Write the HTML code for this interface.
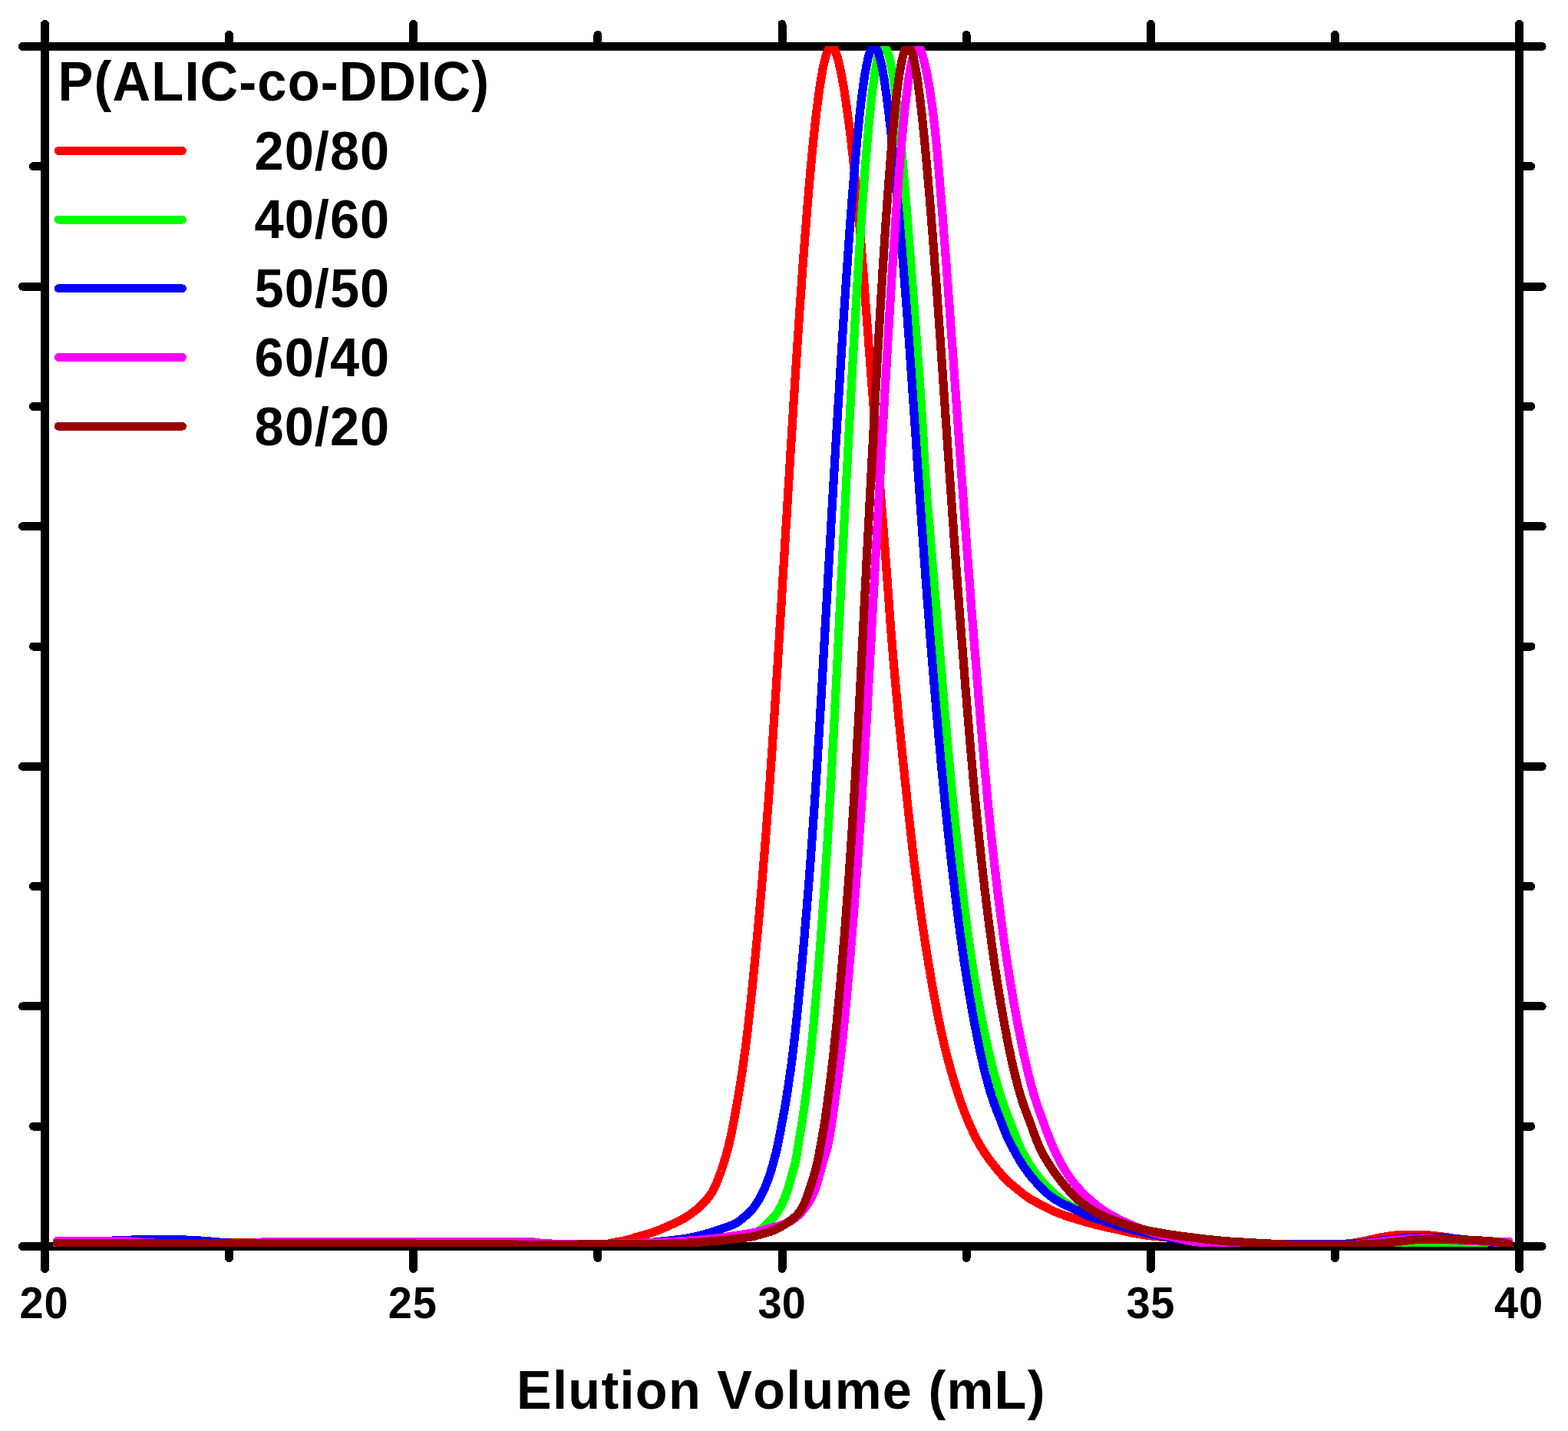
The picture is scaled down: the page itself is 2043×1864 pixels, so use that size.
<!DOCTYPE html>
<html lang="en"><head><meta charset="utf-8"><title>Elution Volume (mL) - P(ALIC-co-DDIC)</title>
<style>
html,body{margin:0;padding:0;background:#fff;}
body{width:2043px;height:1864px;overflow:hidden;}
svg{display:block;}
text{font-family:"Liberation Sans",sans-serif;font-weight:bold;fill:#000;font-kerning:none;}
</style></head><body>
<svg width="2043" height="1864" viewBox="0 0 2043 1864">
<rect width="2043" height="1864" fill="#fff"/>
<defs><clipPath id="plot"><rect x="58.5" y="60.0" width="1921.0" height="1564.0"/></clipPath></defs>

<g stroke="#000" stroke-width="11" stroke-linecap="round" fill="none" shape-rendering="crispEdges">
<path d="M29.5,60.5 H2009.2 M29.5,1623.5 H2009.2 M58.5,31.5 V1652.5 M1979.5,31.5 V1652.5"/>
<path d="M298.62,60.5 v-15.0 M298.62,1623.5 v15.0 M538.75,60.5 v-29.0 M538.75,1623.5 v29.0 M778.88,60.5 v-15.0 M778.88,1623.5 v15.0 M1019.00,60.5 v-29.0 M1019.00,1623.5 v29.0 M1259.12,60.5 v-15.0 M1259.12,1623.5 v15.0 M1499.25,60.5 v-29.0 M1499.25,1623.5 v29.0 M1739.38,60.5 v-15.0 M1739.38,1623.5 v15.0 M58.5,216.80 h-15.0 M1979.5,216.80 h15.3 M58.5,373.10 h-29.0 M1979.5,373.10 h29.7 M58.5,529.40 h-15.0 M1979.5,529.40 h15.3 M58.5,685.70 h-29.0 M1979.5,685.70 h29.7 M58.5,842.00 h-15.0 M1979.5,842.00 h15.3 M58.5,998.30 h-29.0 M1979.5,998.30 h29.7 M58.5,1154.60 h-15.0 M1979.5,1154.60 h15.3 M58.5,1310.90 h-29.0 M1979.5,1310.90 h29.7 M58.5,1467.20 h-15.0 M1979.5,1467.20 h15.3"/>
</g>
<g clip-path="url(#plot)" fill="none" stroke-width="11.2" stroke-linejoin="round" stroke-linecap="round" shape-rendering="crispEdges">
<path stroke="#ff0000" d="M74.5,1619.5 L79.6,1619.5 L84.6,1619.5 L89.7,1619.5 L94.8,1619.5 L99.9,1619.5 L104.9,1619.5 L110.0,1619.5 L115.1,1619.5 L120.1,1619.5 L125.2,1619.5 L130.3,1619.5 L135.4,1619.5 L140.4,1619.5 L145.5,1619.5 L150.6,1619.5 L155.7,1619.5 L160.7,1619.5 L165.8,1619.5 L170.9,1619.5 L175.9,1619.5 L181.0,1619.5 L186.1,1619.5 L191.2,1619.5 L196.2,1619.5 L200.0,1619.5 L201.3,1619.5 L206.4,1619.5 L211.4,1619.5 L216.5,1619.4 L221.6,1619.4 L226.7,1619.4 L231.7,1619.3 L236.8,1619.3 L241.9,1619.2 L247.0,1619.2 L252.0,1619.1 L257.1,1619.1 L262.2,1619.0 L267.2,1619.0 L272.3,1618.9 L277.4,1618.9 L282.5,1618.9 L287.5,1618.8 L292.6,1618.8 L297.7,1618.8 L300.0,1618.8 L302.7,1618.8 L307.8,1618.8 L312.9,1618.8 L318.0,1618.8 L323.0,1618.9 L328.1,1618.9 L333.2,1619.0 L338.2,1619.0 L343.3,1619.0 L348.4,1619.1 L353.5,1619.1 L358.5,1619.2 L363.6,1619.2 L368.7,1619.3 L373.7,1619.3 L378.8,1619.4 L383.9,1619.4 L389.0,1619.4 L394.0,1619.5 L399.1,1619.5 L400.0,1619.5 L404.2,1619.5 L409.3,1619.5 L414.3,1619.6 L419.4,1619.6 L424.5,1619.6 L429.5,1619.6 L434.6,1619.6 L439.7,1619.6 L444.8,1619.6 L449.8,1619.7 L454.9,1619.7 L460.0,1619.7 L465.0,1619.7 L470.1,1619.7 L475.2,1619.7 L480.3,1619.7 L485.3,1619.7 L490.4,1619.8 L495.5,1619.8 L500.6,1619.8 L505.6,1619.8 L510.7,1619.8 L515.8,1619.8 L520.8,1619.8 L525.9,1619.8 L531.0,1619.8 L536.1,1619.8 L541.1,1619.9 L546.2,1619.9 L551.3,1619.9 L556.3,1619.9 L561.4,1619.9 L566.5,1619.9 L571.6,1619.9 L576.6,1619.9 L581.7,1619.9 L586.8,1620.0 L591.8,1620.0 L596.9,1620.0 L600.0,1620.0 L602.0,1620.0 L607.1,1620.0 L612.1,1620.0 L617.2,1620.1 L622.3,1620.1 L627.4,1620.1 L632.4,1620.1 L637.5,1620.1 L642.6,1620.2 L647.6,1620.2 L652.7,1620.2 L657.8,1620.2 L662.9,1620.3 L667.9,1620.3 L673.0,1620.3 L678.1,1620.3 L683.1,1620.4 L688.2,1620.4 L693.3,1620.4 L698.4,1620.4 L703.4,1620.4 L708.5,1620.5 L713.6,1620.5 L718.6,1620.5 L723.7,1620.5 L728.8,1620.5 L733.9,1620.5 L738.9,1620.5 L740.0,1620.5 L744.0,1620.5 L749.1,1620.5 L754.2,1620.5 L759.2,1620.5 L764.3,1620.5 L769.4,1620.5 L774.4,1620.5 L779.5,1620.5 L780.0,1620.5 L784.6,1620.5 L789.7,1620.3 L790.8,1620.3 L794.7,1619.7 L799.6,1618.4 L799.7,1618.4 L804.6,1617.6 L809.6,1616.7 L809.6,1616.7 L814.6,1615.6 L819.5,1614.4 L819.5,1614.4 L824.3,1613.0 L829.2,1611.5 L829.4,1611.4 L834.1,1610.1 L839.0,1608.7 L839.4,1608.6 L843.8,1607.3 L848.7,1605.8 L849.3,1605.6 L853.5,1604.1 L858.2,1602.3 L859.2,1601.9 L862.9,1600.4 L867.5,1598.4 L869.1,1597.7 L872.2,1596.3 L876.8,1594.2 L879.0,1593.2 L881.4,1592.1 L886.0,1589.9 L889.0,1588.3 L890.4,1587.5 L894.7,1584.8 L898.9,1582.0 L899.0,1582.0 L903.1,1579.0 L907.1,1576.0 L908.8,1574.6 L911.0,1572.7 L914.7,1569.2 L918.2,1565.5 L918.7,1565.0 L921.5,1561.7 L924.6,1557.6 L927.4,1553.4 L928.9,1550.8 L929.9,1549.0 L932.1,1544.5 L934.1,1539.8 L936.0,1535.0 L937.7,1530.2 L938.2,1529.0 L939.5,1525.5 L941.1,1520.7 L942.7,1515.9 L944.2,1511.0 L945.6,1506.1 L947.0,1501.3 L948.3,1496.4 L948.6,1495.3 L949.6,1491.4 L950.7,1486.5 L951.8,1481.6 L952.9,1476.6 L953.9,1471.6 L954.9,1466.6 L955.7,1462.6 L955.9,1461.7 L956.8,1456.7 L957.7,1451.7 L958.6,1446.7 L959.5,1441.7 L960.4,1436.7 L961.2,1431.7 L961.5,1430.0 L962.1,1426.7 L962.9,1421.7 L963.7,1416.7 L964.6,1411.7 L965.4,1406.7 L966.1,1401.7 L966.4,1400.0 L966.9,1396.7 L967.6,1391.6 L968.4,1386.6 L969.1,1381.6 L969.7,1376.6 L970.4,1371.5 L970.6,1370.0 L971.1,1366.5 L971.7,1361.5 L972.4,1356.5 L973.0,1351.4 L973.6,1346.4 L974.2,1341.3 L974.3,1340.0 L974.8,1336.3 L975.3,1331.3 L975.9,1326.2 L976.5,1321.2 L977.0,1316.1 L977.5,1311.1 L977.7,1310.0 L978.1,1306.1 L978.6,1301.0 L979.1,1296.0 L979.6,1290.9 L980.2,1285.9 L980.7,1280.8 L980.8,1280.0 L981.2,1275.8 L981.7,1270.7 L982.2,1265.7 L982.7,1260.6 L983.2,1255.6 L983.7,1250.5 L983.7,1250.0 L984.2,1245.5 L984.6,1240.4 L985.1,1235.4 L985.6,1230.4 L986.1,1225.3 L986.6,1220.3 L986.6,1220.0 L987.0,1215.2 L987.5,1210.1 L988.0,1205.1 L988.4,1200.0 L988.9,1195.0 L989.3,1190.0 L989.3,1189.9 L989.8,1184.9 L990.2,1179.8 L990.7,1174.8 L991.1,1169.7 L991.5,1164.7 L991.9,1160.0 L992.0,1159.6 L992.4,1154.6 L992.8,1149.5 L993.3,1144.5 L993.7,1139.4 L994.1,1134.4 L994.5,1130.0 L994.5,1129.3 L994.9,1124.2 L995.4,1119.2 L995.8,1114.1 L996.2,1109.1 L996.6,1104.0 L996.9,1100.0 L997.0,1099.0 L997.4,1093.9 L997.8,1088.9 L998.2,1083.8 L998.6,1078.7 L999.0,1073.7 L999.2,1070.0 L999.3,1068.6 L999.7,1063.6 L1000.1,1058.5 L1000.5,1053.5 L1000.9,1048.4 L1001.2,1043.3 L1001.5,1040.0 L1001.6,1038.3 L1002.0,1033.2 L1002.3,1028.2 L1002.7,1023.1 L1003.1,1018.0 L1003.4,1013.0 L1003.6,1010.0 L1003.8,1007.9 L1004.1,1002.9 L1004.5,997.8 L1004.8,992.7 L1005.2,987.7 L1005.5,982.6 L1005.7,980.0 L1005.9,977.6 L1006.2,972.5 L1006.6,967.4 L1006.9,962.4 L1007.3,957.3 L1007.6,952.3 L1007.7,950.0 L1007.9,947.2 L1008.3,942.1 L1008.6,937.1 L1008.9,932.0 L1009.3,927.0 L1009.6,921.9 L1009.7,920.0 L1009.9,916.8 L1010.2,911.8 L1010.6,906.7 L1010.9,901.6 L1011.2,896.6 L1011.5,891.5 L1011.6,890.0 L1011.8,886.5 L1012.2,881.4 L1012.5,876.3 L1012.8,871.3 L1013.1,866.2 L1013.4,861.2 L1013.5,860.0 L1013.7,856.1 L1014.0,851.0 L1014.4,846.0 L1014.7,840.9 L1015.0,835.8 L1015.3,830.8 L1015.3,830.0 L1015.6,825.7 L1015.9,820.7 L1016.2,815.6 L1016.5,810.5 L1016.8,805.5 L1017.2,800.4 L1017.2,800.0 L1017.5,795.3 L1017.8,790.3 L1018.1,785.2 L1018.4,780.1 L1018.7,775.1 L1019.0,770.0 L1019.0,770.0 L1019.3,765.0 L1019.6,759.9 L1019.9,754.8 L1020.2,749.8 L1020.5,744.7 L1020.8,740.0 L1020.9,739.6 L1021.2,734.6 L1021.5,729.5 L1021.8,724.5 L1022.1,719.4 L1022.4,714.3 L1022.7,710.0 L1022.7,709.3 L1023.0,704.2 L1023.3,699.1 L1023.6,694.1 L1023.9,689.0 L1024.2,684.0 L1024.5,680.0 L1024.6,678.9 L1024.9,673.8 L1025.2,668.8 L1025.5,663.7 L1025.8,658.6 L1026.1,653.6 L1026.3,650.0 L1026.4,648.5 L1026.7,643.5 L1027.0,638.4 L1027.3,633.3 L1027.6,628.3 L1028.0,623.2 L1028.2,620.0 L1028.3,618.1 L1028.6,613.1 L1028.9,608.0 L1029.2,603.0 L1029.5,597.9 L1029.8,592.8 L1030.0,590.0 L1030.1,587.8 L1030.4,582.7 L1030.8,577.6 L1031.1,572.6 L1031.4,567.5 L1031.7,562.5 L1031.9,560.0 L1032.0,557.4 L1032.3,552.3 L1032.6,547.3 L1033.0,542.2 L1033.3,537.1 L1033.6,532.1 L1033.7,530.0 L1033.9,527.0 L1034.2,522.0 L1034.6,516.9 L1034.9,511.8 L1035.2,506.8 L1035.5,501.7 L1035.6,500.0 L1035.8,496.6 L1036.2,491.6 L1036.5,486.5 L1036.8,481.5 L1037.1,476.4 L1037.5,471.3 L1037.6,470.0 L1037.8,466.3 L1038.1,461.2 L1038.5,456.2 L1038.8,451.1 L1039.1,446.0 L1039.5,441.0 L1039.5,440.0 L1039.8,435.9 L1040.1,430.9 L1040.5,425.8 L1040.8,420.7 L1041.2,415.7 L1041.5,410.6 L1041.5,410.0 L1041.8,405.5 L1042.2,400.5 L1042.5,395.4 L1042.9,390.4 L1043.2,385.3 L1043.6,380.2 L1043.6,380.0 L1044.0,375.2 L1044.3,370.1 L1044.7,365.1 L1045.0,360.0 L1045.4,355.0 L1045.8,350.0 L1045.8,349.9 L1046.1,344.8 L1046.5,339.8 L1046.9,334.7 L1047.2,329.7 L1047.6,324.6 L1048.0,320.0 L1048.0,319.5 L1048.4,314.5 L1048.8,309.4 L1049.2,304.4 L1049.6,299.3 L1050.0,294.3 L1050.3,290.0 L1050.4,289.2 L1050.8,284.1 L1051.2,279.1 L1051.6,274.0 L1052.0,269.0 L1052.4,263.9 L1052.7,260.0 L1052.8,258.9 L1053.2,253.8 L1053.7,248.8 L1054.1,243.7 L1054.5,238.7 L1054.8,235.5 L1055.0,233.6 L1055.4,228.5 L1055.9,223.5 L1056.3,218.4 L1056.8,213.4 L1057.1,210.5 L1057.3,208.3 L1057.8,203.3 L1058.2,198.2 L1058.7,193.2 L1059.0,190.5 L1059.2,188.2 L1059.7,183.1 L1060.3,178.1 L1060.8,173.0 L1061.1,170.5 L1061.3,168.0 L1061.9,162.9 L1062.4,157.9 L1063.0,152.8 L1063.0,152.5 L1063.6,147.8 L1064.2,142.8 L1064.8,137.7 L1065.0,136.5 L1065.5,132.7 L1066.1,127.7 L1066.8,122.7 L1066.8,122.5 L1067.5,117.6 L1068.2,112.6 L1068.6,110.5 L1069.0,107.6 L1069.8,102.6 L1070.2,100.5 L1070.7,97.6 L1071.6,92.6 L1071.6,92.5 L1072.5,87.6 L1073.0,85.5 L1073.6,82.7 L1074.3,79.5 L1074.8,77.7 L1075.7,74.5 L1076.1,72.8 L1076.9,70.5 L1077.8,68.0 L1078.0,67.5 L1079.1,65.0 L1079.9,63.4 L1080.2,63.0 L1081.2,61.7 L1082.2,60.9 L1083.5,60.5 L1083.7,60.5 L1084.7,60.9 L1085.5,61.7 L1086.5,63.0 L1087.1,64.1 L1087.6,65.0 L1088.6,67.5 L1089.1,68.8 L1089.7,70.5 L1090.7,73.6 L1091.0,74.5 L1092.1,78.5 L1092.3,79.5 L1093.3,83.4 L1093.8,85.5 L1094.4,88.4 L1095.3,92.5 L1095.5,93.3 L1096.5,98.3 L1096.9,100.5 L1097.4,103.3 L1098.3,108.3 L1098.7,110.5 L1099.2,113.3 L1100.0,118.3 L1100.7,122.5 L1100.8,123.3 L1101.6,128.3 L1102.3,133.3 L1102.8,136.5 L1103.0,138.3 L1103.7,143.4 L1104.4,148.4 L1105.0,152.5 L1105.1,153.4 L1105.8,158.4 L1106.4,163.5 L1107.1,168.5 L1107.3,170.5 L1107.7,173.5 L1108.3,178.6 L1108.9,183.6 L1109.5,188.7 L1109.7,190.5 L1110.0,193.7 L1110.6,198.7 L1111.2,203.8 L1111.7,208.8 L1111.9,210.5 L1112.3,213.9 L1112.8,218.9 L1113.3,224.0 L1113.8,229.0 L1114.3,234.0 L1114.5,235.5 L1114.8,239.1 L1115.3,244.1 L1115.8,249.2 L1116.3,254.2 L1116.8,259.3 L1116.9,260.0 L1117.3,264.3 L1117.7,269.4 L1118.2,274.4 L1118.6,279.5 L1119.1,284.5 L1119.5,289.6 L1119.6,290.0 L1120.0,294.6 L1120.4,299.7 L1120.8,304.8 L1121.2,309.8 L1121.7,314.9 L1122.1,319.9 L1122.1,320.0 L1122.5,325.0 L1122.9,330.0 L1123.3,335.1 L1123.7,340.1 L1124.1,345.2 L1124.5,350.0 L1124.5,350.3 L1124.9,355.3 L1125.3,360.4 L1125.6,365.4 L1126.0,370.5 L1126.4,375.5 L1126.7,380.0 L1126.8,380.6 L1127.2,385.7 L1127.6,390.7 L1127.9,395.8 L1128.3,400.8 L1128.7,405.9 L1129.0,410.0 L1129.1,410.9 L1129.4,416.0 L1129.8,421.1 L1130.2,426.1 L1130.6,431.2 L1131.0,436.2 L1131.2,440.0 L1131.3,441.3 L1131.7,446.4 L1132.1,451.4 L1132.5,456.5 L1132.9,461.5 L1133.3,466.6 L1133.5,470.0 L1133.6,471.6 L1134.0,476.7 L1134.4,481.8 L1134.8,486.8 L1135.2,491.9 L1135.6,496.9 L1135.8,500.0 L1136.0,502.0 L1136.4,507.0 L1136.8,512.1 L1137.2,517.2 L1137.6,522.2 L1138.0,527.3 L1138.2,530.0 L1138.4,532.3 L1138.8,537.4 L1139.2,542.4 L1139.6,547.5 L1140.0,552.5 L1140.5,557.6 L1140.6,560.0 L1140.9,562.7 L1141.3,567.7 L1141.7,572.8 L1142.1,577.8 L1142.5,582.9 L1142.9,587.9 L1143.1,590.0 L1143.3,593.0 L1143.7,598.0 L1144.2,603.1 L1144.6,608.2 L1145.0,613.2 L1145.4,618.3 L1145.5,620.0 L1145.8,623.3 L1146.2,628.4 L1146.6,633.4 L1147.0,638.5 L1147.4,643.5 L1147.8,648.6 L1147.9,650.0 L1148.2,653.7 L1148.6,658.7 L1149.0,663.8 L1149.4,668.8 L1149.8,673.9 L1150.2,678.9 L1150.3,680.0 L1150.6,684.0 L1151.0,689.0 L1151.4,694.1 L1151.8,699.2 L1152.2,704.2 L1152.6,709.3 L1152.6,710.0 L1153.0,714.3 L1153.3,719.4 L1153.7,724.4 L1154.1,729.5 L1154.5,734.6 L1154.9,739.6 L1154.9,740.0 L1155.2,744.7 L1155.6,749.7 L1156.0,754.8 L1156.3,759.9 L1156.7,764.9 L1157.1,770.0 L1157.1,770.0 L1157.5,775.0 L1157.8,780.1 L1158.2,785.2 L1158.5,790.2 L1158.9,795.3 L1159.3,800.0 L1159.3,800.3 L1159.7,805.4 L1160.0,810.4 L1160.4,815.5 L1160.8,820.6 L1161.2,825.6 L1161.6,830.0 L1161.6,830.7 L1162.0,835.7 L1162.4,840.8 L1162.8,845.8 L1163.3,850.9 L1163.7,855.9 L1164.0,860.0 L1164.1,861.0 L1164.6,866.1 L1165.0,871.1 L1165.5,876.2 L1165.9,881.2 L1166.4,886.3 L1166.7,890.0 L1166.8,891.3 L1167.3,896.4 L1167.8,901.4 L1168.2,906.5 L1168.7,911.5 L1169.2,916.6 L1169.5,920.0 L1169.7,921.6 L1170.1,926.7 L1170.6,931.7 L1171.1,936.8 L1171.6,941.8 L1172.1,946.9 L1172.4,950.0 L1172.6,951.9 L1173.1,956.9 L1173.6,962.0 L1174.1,967.0 L1174.6,972.1 L1175.2,977.1 L1175.4,980.0 L1175.7,982.2 L1176.2,987.2 L1176.7,992.3 L1177.2,997.3 L1177.8,1002.4 L1178.3,1007.4 L1178.5,1010.0 L1178.8,1012.5 L1179.3,1017.5 L1179.9,1022.5 L1180.4,1027.6 L1180.9,1032.6 L1181.5,1037.7 L1181.7,1040.0 L1182.0,1042.7 L1182.5,1047.8 L1183.1,1052.8 L1183.6,1057.8 L1184.2,1062.9 L1184.7,1067.9 L1185.0,1070.0 L1185.3,1073.0 L1185.9,1078.0 L1186.4,1083.0 L1187.0,1088.1 L1187.6,1093.1 L1188.2,1098.2 L1188.4,1100.0 L1188.7,1103.2 L1189.3,1108.2 L1189.9,1113.3 L1190.5,1118.3 L1191.1,1123.4 L1191.8,1128.4 L1192.0,1130.0 L1192.4,1133.4 L1193.0,1138.5 L1193.6,1143.5 L1194.3,1148.5 L1194.9,1153.5 L1195.6,1158.6 L1195.8,1160.0 L1196.3,1163.6 L1196.9,1168.6 L1197.6,1173.7 L1198.3,1178.7 L1199.0,1183.7 L1199.7,1188.7 L1199.9,1190.0 L1200.4,1193.8 L1201.1,1198.8 L1201.8,1203.8 L1202.6,1208.8 L1203.3,1213.8 L1204.1,1218.8 L1204.2,1220.0 L1204.8,1223.9 L1205.6,1228.9 L1206.4,1233.9 L1207.2,1238.9 L1208.0,1243.9 L1208.8,1248.9 L1209.0,1250.0 L1209.6,1253.9 L1210.4,1258.9 L1211.3,1263.9 L1212.1,1268.9 L1213.0,1273.9 L1213.8,1278.9 L1214.0,1280.0 L1214.7,1283.9 L1215.6,1288.9 L1216.5,1293.9 L1217.4,1298.9 L1218.4,1303.9 L1219.3,1308.9 L1219.5,1310.0 L1220.3,1313.8 L1221.2,1318.8 L1222.2,1323.8 L1223.2,1328.8 L1224.3,1333.7 L1225.3,1338.7 L1225.6,1340.0 L1226.4,1343.7 L1227.5,1348.6 L1228.6,1353.6 L1229.7,1358.5 L1230.9,1363.4 L1232.1,1368.4 L1232.5,1370.0 L1233.3,1373.3 L1234.6,1378.2 L1235.9,1383.1 L1237.2,1388.0 L1238.6,1392.9 L1239.9,1397.8 L1240.6,1400.0 L1241.4,1402.6 L1242.8,1407.5 L1244.3,1412.3 L1245.8,1417.2 L1247.4,1422.0 L1248.9,1426.8 L1250.0,1430.0 L1250.6,1431.6 L1252.2,1436.4 L1253.9,1441.2 L1255.7,1446.0 L1257.5,1450.7 L1259.4,1455.4 L1260.8,1459.0 L1261.3,1460.1 L1263.3,1464.8 L1265.3,1469.4 L1267.5,1474.0 L1269.7,1478.6 L1270.5,1480.0 L1272.0,1483.1 L1274.4,1487.6 L1276.9,1492.0 L1279.5,1496.3 L1281.2,1499.0 L1282.2,1500.6 L1285.1,1504.8 L1288.0,1509.0 L1291.1,1513.0 L1294.2,1517.0 L1296.5,1520.0 L1297.4,1521.0 L1300.6,1524.9 L1303.9,1528.8 L1307.3,1532.6 L1310.8,1536.2 L1313.6,1539.0 L1314.4,1539.8 L1318.2,1543.1 L1322.1,1546.3 L1326.1,1549.5 L1326.7,1550.0 L1330.0,1552.7 L1334.0,1555.9 L1338.1,1558.9 L1340.0,1560.2 L1342.3,1561.7 L1346.7,1564.2 L1351.2,1566.6 L1355.6,1569.0 L1355.6,1569.0 L1360.1,1571.4 L1364.6,1573.8 L1369.2,1576.0 L1370.0,1576.4 L1373.8,1578.1 L1378.5,1580.0 L1383.2,1581.8 L1385.7,1582.7 L1388.0,1583.5 L1392.8,1585.1 L1397.7,1586.7 L1402.0,1588.0 L1402.5,1588.2 L1407.4,1589.6 L1412.2,1591.1 L1417.1,1592.5 L1420.0,1593.3 L1422.0,1593.8 L1426.9,1595.1 L1431.8,1596.3 L1436.7,1597.5 L1439.7,1598.2 L1441.7,1598.6 L1446.6,1599.7 L1451.6,1600.7 L1456.6,1601.8 L1459.5,1602.4 L1461.5,1602.9 L1466.5,1604.0 L1471.4,1605.2 L1476.4,1606.2 L1479.4,1606.8 L1481.4,1607.1 L1486.4,1607.9 L1491.4,1608.7 L1496.4,1609.4 L1499.2,1609.7 L1501.5,1610.0 L1506.5,1610.5 L1511.5,1611.0 L1516.6,1611.6 L1519.0,1611.8 L1521.6,1612.1 L1526.7,1612.6 L1531.7,1613.2 L1536.8,1613.7 L1541.8,1614.2 L1546.9,1614.8 L1551.9,1615.3 L1557.0,1615.7 L1560.0,1616.0 L1562.0,1616.2 L1567.1,1616.6 L1572.1,1617.1 L1577.2,1617.5 L1582.2,1617.9 L1587.3,1618.3 L1592.3,1618.6 L1597.4,1618.9 L1600.0,1619.0 L1602.5,1619.1 L1607.5,1619.3 L1612.6,1619.4 L1617.7,1619.6 L1622.7,1619.7 L1627.8,1619.9 L1632.9,1620.0 L1638.0,1620.1 L1643.0,1620.3 L1648.1,1620.4 L1653.2,1620.5 L1658.2,1620.6 L1663.3,1620.7 L1668.4,1620.8 L1673.5,1620.8 L1678.5,1620.9 L1683.6,1620.9 L1688.7,1621.0 L1693.8,1621.0 L1698.8,1621.0 L1700.0,1621.0 L1703.9,1621.0 L1709.0,1621.0 L1714.0,1621.0 L1719.1,1621.0 L1724.2,1621.0 L1729.3,1621.0 L1734.3,1620.9 L1739.4,1620.9 L1743.0,1620.9 L1744.5,1620.9 L1749.5,1620.6 L1754.6,1620.1 L1757.9,1619.8 L1759.6,1619.6 L1764.7,1619.0 L1769.7,1618.1 L1772.8,1617.6 L1774.7,1617.2 L1779.6,1616.1 L1784.6,1615.0 L1787.6,1614.3 L1789.5,1613.9 L1794.5,1612.8 L1799.5,1611.8 L1802.5,1611.3 L1804.4,1611.0 L1809.5,1610.1 L1814.5,1609.4 L1817.4,1609.1 L1819.5,1609.0 L1824.6,1608.7 L1829.7,1608.5 L1832.3,1608.5 L1834.7,1608.5 L1839.8,1608.5 L1844.9,1608.5 L1847.2,1608.5 L1850.0,1608.5 L1855.0,1608.7 L1860.1,1608.9 L1862.0,1609.0 L1865.1,1609.2 L1870.2,1609.8 L1875.2,1610.4 L1876.9,1610.6 L1880.3,1611.1 L1885.3,1611.8 L1890.3,1612.6 L1891.8,1612.8 L1895.3,1613.3 L1900.4,1613.9 L1905.4,1614.5 L1910.4,1615.0 L1915.5,1615.6 L1920.0,1616.0 L1920.5,1616.1 L1925.6,1616.5 L1930.6,1616.9 L1935.7,1617.3 L1940.7,1617.7 L1945.8,1618.1 L1950.0,1618.5 L1950.9,1618.6 L1955.9,1619.0 L1961.0,1619.5 L1966.0,1620.0"/>
<path stroke="#00ff00" d="M74.5,1621.0 L79.6,1621.0 L84.8,1621.0 L89.9,1621.0 L95.0,1621.0 L100.1,1621.0 L105.3,1621.0 L110.4,1621.0 L115.5,1621.0 L120.7,1621.0 L125.8,1621.0 L130.9,1621.0 L136.0,1621.0 L141.2,1621.0 L146.3,1621.0 L151.4,1621.0 L156.6,1621.0 L161.7,1621.0 L166.8,1621.0 L172.0,1621.0 L177.1,1621.0 L182.2,1621.0 L187.3,1621.0 L192.5,1621.0 L197.6,1621.0 L202.7,1621.0 L207.9,1621.0 L213.0,1621.0 L218.1,1621.0 L223.2,1621.0 L228.4,1621.0 L233.5,1621.0 L238.6,1621.0 L243.8,1621.0 L248.9,1621.0 L254.0,1621.0 L259.1,1621.0 L264.3,1621.0 L269.4,1621.0 L274.5,1621.0 L279.7,1621.0 L284.8,1621.0 L289.9,1621.0 L295.0,1621.0 L300.2,1621.0 L305.3,1621.0 L310.4,1621.0 L315.6,1621.0 L320.7,1621.0 L325.8,1621.0 L331.0,1621.0 L336.1,1621.0 L341.2,1621.0 L346.3,1621.0 L351.5,1621.0 L356.6,1621.0 L361.7,1621.0 L366.9,1621.0 L372.0,1621.0 L377.1,1621.0 L382.2,1621.0 L387.4,1621.0 L392.5,1621.0 L397.6,1621.0 L400.0,1621.0 L402.8,1621.0 L407.9,1621.0 L413.0,1621.0 L418.1,1621.0 L423.3,1621.0 L428.4,1621.0 L433.5,1621.0 L438.7,1621.0 L443.8,1621.0 L448.9,1621.0 L454.1,1621.0 L459.2,1621.0 L464.3,1621.0 L469.4,1621.0 L474.6,1621.0 L479.7,1621.0 L484.8,1621.0 L490.0,1621.0 L495.1,1621.0 L500.2,1621.0 L505.3,1621.0 L510.5,1621.0 L515.6,1621.0 L520.7,1621.0 L525.9,1621.0 L531.0,1621.0 L536.1,1621.0 L541.3,1621.0 L546.4,1621.0 L551.5,1621.0 L556.6,1621.0 L561.8,1621.0 L566.9,1621.0 L572.0,1621.0 L577.2,1621.0 L582.3,1621.0 L587.4,1621.0 L592.5,1621.0 L597.7,1621.0 L602.8,1621.0 L607.9,1621.0 L613.1,1621.0 L618.2,1621.0 L623.3,1621.0 L628.5,1621.0 L633.6,1621.0 L638.7,1621.0 L643.8,1621.0 L649.0,1621.0 L654.1,1621.0 L659.2,1621.0 L664.4,1621.0 L669.5,1621.0 L674.6,1621.0 L679.7,1621.0 L684.9,1621.0 L690.0,1621.0 L695.1,1621.0 L700.3,1621.0 L705.4,1621.0 L710.5,1621.0 L715.6,1621.0 L720.8,1621.0 L725.9,1621.0 L731.0,1621.0 L736.2,1621.0 L741.3,1621.0 L746.4,1621.0 L751.5,1621.0 L756.7,1621.0 L761.8,1621.0 L766.9,1621.0 L772.1,1621.0 L777.2,1621.0 L782.3,1621.0 L787.4,1621.0 L792.6,1621.0 L797.7,1621.0 L800.0,1621.0 L802.8,1621.0 L808.0,1621.0 L813.1,1620.9 L818.2,1620.9 L823.3,1620.8 L828.5,1620.7 L833.6,1620.6 L838.7,1620.4 L843.9,1620.3 L849.0,1620.1 L854.1,1619.9 L859.3,1619.7 L864.4,1619.5 L869.5,1619.3 L874.6,1619.1 L879.8,1618.8 L884.9,1618.6 L890.0,1618.3 L895.1,1618.1 L900.0,1617.8 L900.2,1617.8 L905.3,1617.5 L910.5,1617.1 L915.6,1616.7 L920.7,1616.1 L925.8,1615.6 L930.9,1615.0 L936.0,1614.4 L941.1,1613.7 L946.1,1613.0 L950.0,1612.5 L951.2,1612.3 L956.3,1611.6 L961.4,1610.7 L966.4,1609.8 L971.4,1608.8 L975.0,1608.0 L976.5,1607.7 L981.5,1606.5 L986.0,1605.1 L986.3,1605.0 L990.6,1602.1 L992.0,1600.9 L994.6,1598.8 L997.9,1595.8 L998.4,1595.4 L1002.1,1591.8 L1005.7,1588.1 L1009.1,1584.3 L1011.1,1581.8 L1012.2,1580.3 L1014.9,1575.9 L1017.4,1571.4 L1018.2,1569.8 L1019.6,1566.8 L1021.7,1562.1 L1023.6,1557.3 L1025.4,1552.5 L1025.6,1551.9 L1027.0,1547.6 L1028.4,1542.7 L1029.8,1537.7 L1030.8,1533.9 L1031.1,1532.8 L1032.5,1527.9 L1033.9,1522.9 L1035.3,1518.0 L1036.5,1513.0 L1037.1,1510.0 L1037.5,1508.0 L1038.3,1502.9 L1039.0,1497.8 L1039.4,1495.3 L1039.8,1492.8 L1040.7,1487.7 L1041.5,1482.6 L1042.4,1477.6 L1043.3,1472.5 L1044.1,1467.5 L1044.9,1462.6 L1044.9,1462.4 L1045.7,1457.3 L1046.5,1452.3 L1047.2,1447.2 L1047.9,1442.1 L1048.6,1437.0 L1049.3,1431.9 L1049.6,1430.0 L1050.0,1426.9 L1050.6,1421.8 L1051.3,1416.7 L1051.9,1411.6 L1052.5,1406.5 L1053.1,1401.4 L1053.3,1400.0 L1053.7,1396.3 L1054.3,1391.2 L1054.8,1386.1 L1055.4,1381.0 L1055.9,1375.9 L1056.5,1370.8 L1056.6,1370.0 L1057.0,1365.7 L1057.5,1360.6 L1058.0,1355.5 L1058.5,1350.4 L1059.0,1345.3 L1059.5,1340.2 L1059.5,1340.0 L1060.0,1335.1 L1060.5,1330.0 L1060.9,1324.9 L1061.4,1319.8 L1061.8,1314.7 L1062.2,1310.0 L1062.3,1309.5 L1062.7,1304.4 L1063.2,1299.3 L1063.6,1294.2 L1064.0,1289.1 L1064.5,1284.0 L1064.8,1280.0 L1064.9,1278.9 L1065.3,1273.8 L1065.7,1268.7 L1066.1,1263.5 L1066.5,1258.4 L1067.0,1253.3 L1067.2,1250.0 L1067.4,1248.2 L1067.8,1243.1 L1068.2,1238.0 L1068.6,1232.9 L1069.0,1227.8 L1069.3,1222.6 L1069.5,1220.0 L1069.7,1217.5 L1070.1,1212.4 L1070.5,1207.3 L1070.9,1202.2 L1071.2,1197.1 L1071.6,1191.9 L1071.8,1190.0 L1072.0,1186.8 L1072.4,1181.7 L1072.7,1176.6 L1073.1,1171.5 L1073.4,1166.4 L1073.8,1161.2 L1073.9,1160.0 L1074.2,1156.1 L1074.5,1151.0 L1074.9,1145.9 L1075.2,1140.8 L1075.5,1135.7 L1075.9,1130.5 L1075.9,1130.0 L1076.2,1125.4 L1076.6,1120.3 L1076.9,1115.2 L1077.2,1110.1 L1077.5,1105.0 L1077.9,1100.0 L1077.9,1099.8 L1078.2,1094.7 L1078.5,1089.6 L1078.8,1084.5 L1079.1,1079.4 L1079.5,1074.2 L1079.7,1070.0 L1079.8,1069.1 L1080.1,1064.0 L1080.4,1058.9 L1080.7,1053.8 L1081.0,1048.6 L1081.3,1043.5 L1081.5,1040.0 L1081.6,1038.4 L1081.9,1033.3 L1082.2,1028.2 L1082.5,1023.0 L1082.8,1017.9 L1083.1,1012.8 L1083.2,1010.0 L1083.3,1007.7 L1083.6,1002.6 L1083.9,997.4 L1084.2,992.3 L1084.5,987.2 L1084.8,982.1 L1084.9,980.0 L1085.0,976.9 L1085.3,971.8 L1085.6,966.7 L1085.9,961.6 L1086.1,956.5 L1086.4,951.3 L1086.5,950.0 L1086.7,946.2 L1086.9,941.1 L1087.2,936.0 L1087.5,930.8 L1087.7,925.7 L1088.0,920.6 L1088.0,920.0 L1088.2,915.5 L1088.5,910.4 L1088.8,905.2 L1089.0,900.1 L1089.3,895.0 L1089.5,890.0 L1089.5,889.9 L1089.8,884.7 L1090.1,879.6 L1090.3,874.5 L1090.6,869.4 L1090.8,864.3 L1091.0,860.0 L1091.1,859.1 L1091.3,854.0 L1091.6,848.9 L1091.8,843.8 L1092.1,838.6 L1092.3,833.5 L1092.5,830.0 L1092.6,828.4 L1092.8,823.3 L1093.1,818.2 L1093.3,813.0 L1093.6,807.9 L1093.9,802.8 L1094.0,800.0 L1094.1,797.7 L1094.4,792.5 L1094.6,787.4 L1094.9,782.3 L1095.1,777.2 L1095.4,772.0 L1095.5,770.0 L1095.6,766.9 L1095.9,761.8 L1096.1,756.7 L1096.4,751.6 L1096.7,746.4 L1096.9,741.3 L1097.0,740.0 L1097.2,736.2 L1097.4,731.1 L1097.7,725.9 L1097.9,720.8 L1098.2,715.7 L1098.5,710.6 L1098.5,710.0 L1098.7,705.5 L1099.0,700.3 L1099.2,695.2 L1099.5,690.1 L1099.8,685.0 L1100.0,680.0 L1100.0,679.8 L1100.3,674.7 L1100.5,669.6 L1100.8,664.5 L1101.1,659.4 L1101.3,654.2 L1101.6,650.0 L1101.6,649.1 L1101.9,644.0 L1102.1,638.9 L1102.4,633.7 L1102.7,628.6 L1102.9,623.5 L1103.1,620.0 L1103.2,618.4 L1103.5,613.3 L1103.7,608.1 L1104.0,603.0 L1104.3,597.9 L1104.5,592.8 L1104.7,590.0 L1104.8,587.6 L1105.1,582.5 L1105.3,577.4 L1105.6,572.3 L1105.9,567.2 L1106.2,562.0 L1106.3,560.0 L1106.4,556.9 L1106.7,551.8 L1107.0,546.7 L1107.3,541.5 L1107.5,536.4 L1107.8,531.3 L1107.9,530.0 L1108.1,526.2 L1108.4,521.1 L1108.6,515.9 L1108.9,510.8 L1109.2,505.7 L1109.5,500.6 L1109.5,500.0 L1109.8,495.5 L1110.0,490.3 L1110.3,485.2 L1110.6,480.1 L1110.9,475.0 L1111.2,470.0 L1111.2,469.8 L1111.5,464.7 L1111.8,459.6 L1112.0,454.5 L1112.3,449.4 L1112.6,444.2 L1112.9,440.0 L1112.9,439.1 L1113.2,434.0 L1113.5,428.9 L1113.8,423.8 L1114.1,418.6 L1114.4,413.5 L1114.6,410.0 L1114.7,408.4 L1115.0,403.3 L1115.3,398.2 L1115.6,393.0 L1115.9,387.9 L1116.2,382.8 L1116.4,380.0 L1116.5,377.7 L1116.8,372.6 L1117.2,367.4 L1117.5,362.3 L1117.8,357.2 L1118.1,352.1 L1118.2,350.0 L1118.4,347.0 L1118.7,341.8 L1119.1,336.7 L1119.4,331.6 L1119.7,326.5 L1120.0,321.4 L1120.1,320.0 L1120.4,316.2 L1120.7,311.1 L1121.0,306.0 L1121.4,300.9 L1121.7,295.8 L1122.1,290.7 L1122.1,290.0 L1122.4,285.5 L1122.8,280.4 L1123.1,275.3 L1123.5,270.2 L1123.8,265.1 L1124.2,260.0 L1124.2,260.0 L1124.6,254.8 L1124.9,249.7 L1125.3,244.6 L1125.7,239.5 L1126.0,235.5 L1126.1,234.4 L1126.5,229.3 L1126.8,224.2 L1127.2,219.0 L1127.6,213.9 L1127.9,210.5 L1128.1,208.8 L1128.5,203.7 L1128.9,198.6 L1129.3,193.5 L1129.6,190.5 L1129.7,188.4 L1130.2,183.3 L1130.6,178.1 L1131.1,173.0 L1131.3,170.5 L1131.6,167.9 L1132.0,162.8 L1132.5,157.7 L1133.0,152.6 L1133.0,152.5 L1133.5,147.5 L1134.0,142.4 L1134.6,137.3 L1134.7,136.5 L1135.1,132.2 L1135.7,127.1 L1136.2,122.5 L1136.3,122.0 L1136.9,116.9 L1137.6,111.8 L1137.7,110.5 L1138.2,106.8 L1138.9,101.7 L1139.1,100.5 L1139.7,96.6 L1140.3,92.5 L1140.5,91.5 L1141.4,86.5 L1141.6,85.5 L1142.3,81.4 L1142.7,79.5 L1143.4,76.4 L1143.9,74.5 L1144.6,71.4 L1144.9,70.5 L1145.9,67.5 L1146.2,66.6 L1146.8,65.0 L1147.8,63.0 L1148.5,62.0 L1148.7,61.7 L1149.5,60.9 L1150.7,60.5 L1152.1,60.9 L1152.9,61.4 L1153.1,61.7 L1154.2,63.0 L1155.3,65.0 L1155.7,65.7 L1156.4,67.5 L1157.5,70.5 L1157.5,70.5 L1158.7,74.5 L1158.9,75.4 L1159.9,79.5 L1160.1,80.4 L1161.2,85.4 L1161.2,85.5 L1162.2,90.5 L1162.5,92.5 L1163.1,95.5 L1163.9,100.5 L1163.9,100.6 L1164.7,105.6 L1165.4,110.5 L1165.4,110.7 L1166.1,115.8 L1166.8,120.9 L1167.0,122.5 L1167.4,126.0 L1168.0,131.1 L1168.6,136.2 L1168.7,136.5 L1169.2,141.3 L1169.8,146.4 L1170.3,151.5 L1170.4,152.5 L1170.9,156.6 L1171.4,161.7 L1171.9,166.8 L1172.3,170.5 L1172.4,171.9 L1172.9,177.0 L1173.4,182.1 L1173.9,187.2 L1174.2,190.5 L1174.4,192.3 L1174.8,197.4 L1175.3,202.5 L1175.8,207.6 L1176.0,210.5 L1176.2,212.7 L1176.7,217.8 L1177.1,222.9 L1177.6,228.1 L1178.0,233.2 L1178.2,235.5 L1178.4,238.3 L1178.9,243.4 L1179.3,248.5 L1179.7,253.6 L1180.1,258.7 L1180.2,260.0 L1180.5,263.8 L1181.0,268.9 L1181.4,274.1 L1181.8,279.2 L1182.2,284.3 L1182.6,289.4 L1182.6,290.0 L1183.0,294.5 L1183.4,299.6 L1183.8,304.7 L1184.2,309.8 L1184.6,315.0 L1185.0,320.0 L1185.0,320.1 L1185.4,325.2 L1185.8,330.3 L1186.2,335.4 L1186.6,340.5 L1187.0,345.6 L1187.3,350.0 L1187.4,350.8 L1187.7,355.9 L1188.1,361.0 L1188.5,366.1 L1188.9,371.2 L1189.3,376.3 L1189.6,380.0 L1189.7,381.4 L1190.1,386.6 L1190.5,391.7 L1190.9,396.8 L1191.2,401.9 L1191.6,407.0 L1191.8,410.0 L1192.0,412.1 L1192.4,417.2 L1192.8,422.4 L1193.2,427.5 L1193.5,432.6 L1193.9,437.7 L1194.1,440.0 L1194.3,442.8 L1194.7,447.9 L1195.1,453.0 L1195.5,458.2 L1195.8,463.3 L1196.2,468.4 L1196.3,470.0 L1196.6,473.5 L1197.0,478.6 L1197.3,483.7 L1197.7,488.9 L1198.1,494.0 L1198.4,499.1 L1198.5,500.0 L1198.8,504.2 L1199.1,509.3 L1199.5,514.4 L1199.8,519.6 L1200.2,524.7 L1200.5,529.8 L1200.5,530.0 L1200.8,534.9 L1201.1,540.0 L1201.5,545.1 L1201.8,550.3 L1202.1,555.4 L1202.3,560.0 L1202.4,560.5 L1202.7,565.6 L1203.0,570.8 L1203.2,575.9 L1203.5,581.0 L1203.8,586.1 L1204.0,590.0 L1204.1,591.2 L1204.4,596.4 L1204.7,601.5 L1205.0,606.6 L1205.3,611.7 L1205.6,616.8 L1205.8,620.0 L1206.0,622.0 L1206.3,627.1 L1206.7,632.2 L1207.1,637.3 L1207.5,642.4 L1207.8,647.5 L1208.0,650.0 L1208.2,652.6 L1208.6,657.8 L1209.1,662.9 L1209.5,668.0 L1209.9,673.1 L1210.3,678.2 L1210.5,680.0 L1210.8,683.3 L1211.2,688.4 L1211.6,693.5 L1212.1,698.6 L1212.5,703.8 L1212.9,708.9 L1213.0,710.0 L1213.3,714.0 L1213.8,719.1 L1214.2,724.2 L1214.6,729.3 L1215.0,734.4 L1215.5,739.5 L1215.5,740.0 L1215.9,744.6 L1216.3,749.8 L1216.7,754.9 L1217.2,760.0 L1217.6,765.1 L1218.0,770.0 L1218.0,770.2 L1218.4,775.3 L1218.8,780.4 L1219.3,785.5 L1219.7,790.7 L1220.1,795.8 L1220.4,800.0 L1220.5,800.9 L1220.9,806.0 L1221.4,811.1 L1221.8,816.2 L1222.2,821.3 L1222.6,826.4 L1222.9,830.0 L1223.0,831.5 L1223.5,836.7 L1223.9,841.8 L1224.3,846.9 L1224.7,852.0 L1225.2,857.1 L1225.4,860.0 L1225.6,862.2 L1226.0,867.3 L1226.4,872.4 L1226.9,877.6 L1227.3,882.7 L1227.7,887.8 L1227.9,890.0 L1228.1,892.9 L1228.6,898.0 L1229.0,903.1 L1229.4,908.2 L1229.9,913.3 L1230.3,918.4 L1230.4,920.0 L1230.7,923.6 L1231.2,928.7 L1231.6,933.8 L1232.1,938.9 L1232.5,944.0 L1233.0,949.1 L1233.0,950.0 L1233.4,954.2 L1233.8,959.3 L1234.3,964.4 L1234.8,969.5 L1235.2,974.6 L1235.7,979.8 L1235.7,980.0 L1236.1,984.9 L1236.6,990.0 L1237.1,995.1 L1237.5,1000.2 L1238.0,1005.3 L1238.4,1010.0 L1238.5,1010.4 L1239.0,1015.5 L1239.4,1020.6 L1239.9,1025.7 L1240.4,1030.8 L1240.9,1035.9 L1241.3,1040.0 L1241.4,1041.0 L1241.9,1046.1 L1242.4,1051.2 L1242.9,1056.3 L1243.4,1061.5 L1243.9,1066.6 L1244.3,1070.0 L1244.5,1071.7 L1245.0,1076.8 L1245.5,1081.9 L1246.0,1087.0 L1246.6,1092.1 L1247.1,1097.2 L1247.4,1100.0 L1247.7,1102.3 L1248.2,1107.4 L1248.8,1112.5 L1249.3,1117.6 L1249.9,1122.7 L1250.4,1127.8 L1250.7,1130.0 L1251.0,1132.9 L1251.6,1138.0 L1252.2,1143.0 L1252.8,1148.1 L1253.3,1153.2 L1253.9,1158.3 L1254.1,1160.0 L1254.5,1163.4 L1255.2,1168.5 L1255.8,1173.6 L1256.4,1178.7 L1257.0,1183.8 L1257.6,1188.9 L1257.8,1190.0 L1258.3,1194.0 L1258.9,1199.1 L1259.6,1204.1 L1260.2,1209.2 L1260.9,1214.3 L1261.6,1219.4 L1261.7,1220.0 L1262.3,1224.5 L1263.0,1229.6 L1263.7,1234.6 L1264.4,1239.7 L1265.2,1244.8 L1265.9,1249.9 L1266.0,1250.0 L1266.7,1254.9 L1267.5,1260.0 L1268.3,1265.1 L1269.1,1270.1 L1269.9,1275.2 L1270.7,1280.0 L1270.7,1280.3 L1271.6,1285.3 L1272.4,1290.4 L1273.3,1295.4 L1274.2,1300.5 L1275.1,1305.5 L1275.9,1310.0 L1276.0,1310.6 L1277.0,1315.6 L1277.9,1320.7 L1278.9,1325.7 L1279.9,1330.7 L1280.9,1335.8 L1281.8,1340.0 L1281.9,1340.8 L1283.0,1345.8 L1284.0,1350.8 L1285.1,1355.8 L1286.2,1360.9 L1287.3,1365.9 L1288.3,1370.0 L1288.5,1370.9 L1289.7,1375.8 L1290.9,1380.8 L1292.1,1385.8 L1293.4,1390.8 L1294.6,1395.8 L1295.8,1400.0 L1296.0,1400.7 L1297.3,1405.7 L1298.7,1410.6 L1300.1,1415.5 L1301.6,1420.5 L1303.1,1425.4 L1304.5,1430.0 L1304.6,1430.2 L1306.2,1435.1 L1307.9,1439.9 L1309.7,1444.8 L1311.5,1449.6 L1313.3,1454.4 L1315.2,1459.1 L1316.5,1462.6 L1317.0,1463.9 L1318.8,1468.7 L1320.6,1473.6 L1322.5,1478.4 L1324.3,1483.1 L1326.3,1487.9 L1328.3,1492.6 L1329.6,1495.3 L1330.5,1497.2 L1332.8,1501.8 L1335.2,1506.3 L1337.8,1510.8 L1340.4,1515.2 L1341.6,1517.0 L1343.2,1519.5 L1346.1,1523.7 L1349.1,1527.9 L1352.2,1532.0 L1355.4,1536.0 L1357.8,1538.8 L1358.7,1539.9 L1362.2,1543.7 L1365.7,1547.4 L1369.4,1551.1 L1373.1,1554.6 L1377.0,1558.0 L1380.0,1560.5 L1380.9,1561.2 L1385.0,1564.3 L1389.3,1567.2 L1393.6,1569.9 L1398.1,1572.5 L1400.0,1573.5 L1402.6,1574.8 L1407.3,1577.0 L1412.0,1578.9 L1416.8,1580.8 L1420.0,1582.0 L1421.6,1582.6 L1426.5,1584.2 L1431.4,1585.8 L1436.3,1587.3 L1440.0,1588.5 L1441.2,1588.9 L1446.0,1590.5 L1450.9,1592.1 L1455.8,1593.7 L1460.0,1595.0 L1460.7,1595.2 L1465.6,1596.6 L1470.6,1598.0 L1475.5,1599.3 L1480.0,1600.5 L1480.5,1600.6 L1485.4,1601.9 L1490.4,1603.2 L1495.4,1604.4 L1500.0,1605.5 L1500.4,1605.6 L1505.4,1606.7 L1510.4,1607.7 L1515.5,1608.6 L1520.0,1609.5 L1520.5,1609.6 L1525.5,1610.5 L1530.6,1611.5 L1535.7,1612.3 L1540.0,1613.0 L1540.7,1613.1 L1545.8,1613.8 L1550.9,1614.6 L1556.0,1615.3 L1561.0,1615.9 L1566.1,1616.5 L1571.2,1617.1 L1576.3,1617.6 L1580.0,1618.0 L1581.4,1618.1 L1586.5,1618.6 L1591.7,1619.1 L1596.8,1619.5 L1601.9,1620.0 L1607.0,1620.3 L1612.1,1620.7 L1617.2,1620.9 L1620.0,1621.0 L1622.4,1621.1 L1627.5,1621.2 L1632.6,1621.4 L1637.7,1621.5 L1642.9,1621.6 L1648.0,1621.8 L1653.1,1621.9 L1658.2,1622.0 L1663.4,1622.1 L1668.5,1622.1 L1673.6,1622.2 L1678.8,1622.3 L1683.9,1622.3 L1689.0,1622.4 L1694.2,1622.4 L1699.3,1622.5 L1700.0,1622.5 L1704.4,1622.5 L1709.5,1622.6 L1714.7,1622.6 L1719.8,1622.7 L1724.9,1622.7 L1730.1,1622.7 L1735.2,1622.8 L1740.3,1622.8 L1745.5,1622.8 L1750.6,1622.9 L1755.7,1622.9 L1760.8,1622.9 L1766.0,1622.9 L1771.1,1622.9 L1776.2,1623.0 L1781.4,1623.0 L1786.5,1623.0 L1791.6,1623.0 L1796.7,1623.0 L1800.0,1623.0 L1801.9,1623.0 L1807.0,1623.0 L1812.1,1623.0 L1817.3,1623.0 L1822.4,1623.0 L1827.5,1623.0 L1832.6,1623.0 L1837.8,1623.0 L1842.9,1623.0 L1848.0,1623.0 L1853.2,1623.0 L1858.3,1623.0 L1863.4,1623.0 L1868.5,1623.0 L1873.7,1623.0 L1878.8,1623.0 L1883.9,1623.0 L1889.1,1623.0 L1894.2,1623.0 L1899.3,1623.0 L1900.0,1623.0 L1904.5,1623.0 L1909.6,1623.0 L1914.7,1623.0 L1919.8,1623.0 L1925.0,1623.0 L1930.1,1623.0 L1935.2,1623.0 L1940.4,1623.0 L1945.5,1623.0 L1950.6,1623.0 L1955.7,1623.0 L1960.9,1623.0 L1966.0,1623.0"/>
<path stroke="#0000ff" d="M74.5,1618.0 L79.6,1617.9 L84.7,1617.8 L89.8,1617.7 L94.9,1617.6 L100.0,1617.5 L105.1,1617.4 L110.2,1617.3 L115.3,1617.1 L120.0,1617.0 L120.4,1617.0 L125.5,1616.8 L130.6,1616.7 L135.7,1616.5 L140.8,1616.3 L145.9,1616.1 L150.0,1616.0 L151.0,1616.0 L156.1,1615.8 L161.2,1615.6 L166.3,1615.3 L171.4,1615.1 L176.5,1615.0 L181.6,1614.8 L185.0,1614.8 L186.7,1614.8 L191.8,1614.7 L196.9,1614.7 L202.0,1614.7 L207.1,1614.6 L212.2,1614.6 L217.3,1614.6 L222.4,1614.6 L225.0,1614.6 L227.5,1614.6 L232.6,1614.7 L237.7,1614.9 L242.8,1615.1 L247.9,1615.3 L253.0,1615.6 L258.1,1615.9 L260.0,1616.0 L263.2,1616.2 L268.3,1616.6 L273.4,1617.0 L278.5,1617.5 L283.5,1617.9 L285.0,1618.0 L288.6,1618.3 L293.7,1618.7 L298.8,1619.0 L303.9,1619.3 L309.0,1619.5 L310.0,1619.5 L314.1,1619.5 L319.2,1619.6 L324.3,1619.7 L329.4,1619.7 L334.5,1619.7 L339.6,1619.8 L344.7,1619.8 L349.8,1619.9 L354.9,1619.9 L360.0,1619.9 L365.1,1619.9 L370.2,1620.0 L375.3,1620.0 L380.4,1620.0 L385.5,1620.0 L390.6,1620.0 L395.7,1620.0 L400.0,1620.0 L400.8,1620.0 L406.0,1620.0 L411.1,1620.0 L416.2,1620.0 L421.3,1620.0 L426.4,1620.0 L431.5,1620.0 L436.6,1620.0 L441.7,1620.0 L446.8,1620.0 L451.9,1620.0 L457.0,1620.0 L462.1,1620.0 L467.2,1620.0 L472.3,1620.0 L477.4,1620.0 L482.5,1620.0 L487.6,1620.0 L492.7,1620.0 L497.8,1620.0 L502.9,1620.0 L508.0,1620.0 L513.1,1620.0 L518.2,1620.0 L523.3,1620.0 L528.4,1620.0 L533.5,1620.0 L538.6,1620.0 L543.7,1620.0 L548.8,1620.0 L553.9,1620.0 L559.0,1620.0 L564.1,1620.0 L569.2,1620.0 L574.3,1620.0 L579.4,1620.0 L584.5,1620.0 L589.6,1620.0 L594.7,1620.0 L599.8,1620.0 L600.0,1620.0 L604.9,1620.0 L610.0,1620.0 L615.1,1620.0 L620.2,1620.0 L625.4,1620.0 L630.5,1620.0 L635.6,1620.0 L640.7,1620.0 L645.8,1620.0 L650.9,1620.0 L656.0,1620.1 L661.1,1620.1 L666.2,1620.1 L671.3,1620.1 L676.4,1620.1 L681.5,1620.1 L686.6,1620.1 L691.7,1620.1 L696.8,1620.1 L701.9,1620.2 L707.0,1620.2 L712.1,1620.2 L717.2,1620.2 L722.3,1620.2 L727.4,1620.2 L732.5,1620.2 L737.6,1620.2 L742.7,1620.2 L747.8,1620.2 L752.9,1620.3 L758.0,1620.3 L763.1,1620.3 L768.2,1620.3 L773.3,1620.3 L778.4,1620.3 L783.5,1620.3 L788.6,1620.3 L793.7,1620.3 L798.8,1620.3 L800.0,1620.3 L803.9,1620.3 L809.0,1620.2 L814.1,1620.2 L819.2,1620.0 L824.3,1619.9 L828.5,1619.8 L829.4,1619.8 L834.5,1619.5 L839.6,1619.2 L844.7,1618.7 L849.8,1618.2 L854.9,1617.7 L859.2,1617.3 L860.0,1617.2 L865.0,1616.7 L870.1,1616.2 L875.2,1615.7 L879.0,1615.2 L880.2,1615.0 L885.3,1614.4 L890.4,1613.7 L895.4,1612.9 L898.9,1612.3 L900.4,1612.0 L905.4,1610.9 L910.4,1609.7 L915.3,1608.4 L918.7,1607.5 L920.2,1607.1 L925.1,1605.6 L930.0,1604.1 L934.8,1602.5 L938.6,1601.2 L939.7,1600.8 L944.5,1599.2 L949.4,1597.5 L954.2,1595.6 L958.4,1593.6 L958.7,1593.5 L963.0,1590.7 L967.0,1587.5 L970.0,1585.0 L970.9,1584.2 L974.7,1580.8 L978.3,1577.1 L981.7,1573.3 L983.1,1571.4 L984.6,1569.2 L987.4,1565.0 L990.0,1560.5 L992.4,1555.9 L994.6,1551.3 L995.4,1549.6 L996.7,1546.7 L998.7,1542.0 L1000.5,1537.2 L1002.2,1532.4 L1003.7,1527.9 L1003.8,1527.5 L1005.3,1522.7 L1006.8,1517.8 L1008.1,1512.9 L1009.4,1507.9 L1010.7,1503.0 L1011.9,1498.0 L1012.5,1495.3 L1013.0,1493.0 L1014.1,1488.0 L1015.1,1483.0 L1016.0,1478.0 L1017.0,1473.0 L1017.9,1468.0 L1018.8,1463.0 L1018.9,1462.6 L1019.8,1458.0 L1020.7,1452.9 L1021.6,1447.9 L1022.5,1442.9 L1023.3,1437.9 L1024.2,1432.8 L1024.6,1430.0 L1025.0,1427.8 L1025.8,1422.8 L1026.6,1417.7 L1027.4,1412.7 L1028.1,1407.6 L1028.8,1402.6 L1029.2,1400.0 L1029.6,1397.5 L1030.3,1392.5 L1030.9,1387.4 L1031.6,1382.4 L1032.3,1377.3 L1032.9,1372.2 L1033.2,1370.0 L1033.5,1367.2 L1034.1,1362.1 L1034.7,1357.0 L1035.3,1352.0 L1035.9,1346.9 L1036.5,1341.8 L1036.7,1340.0 L1037.0,1336.7 L1037.5,1331.7 L1038.1,1326.6 L1038.6,1321.5 L1039.1,1316.4 L1039.6,1311.4 L1039.8,1310.0 L1040.1,1306.3 L1040.6,1301.2 L1041.1,1296.1 L1041.6,1291.1 L1042.1,1286.0 L1042.6,1280.9 L1042.7,1280.0 L1043.1,1275.8 L1043.5,1270.7 L1044.0,1265.7 L1044.5,1260.6 L1044.9,1255.5 L1045.4,1250.4 L1045.4,1250.0 L1045.8,1245.3 L1046.3,1240.3 L1046.7,1235.2 L1047.2,1230.1 L1047.6,1225.0 L1048.1,1220.0 L1048.1,1219.9 L1048.5,1214.8 L1048.9,1209.8 L1049.4,1204.7 L1049.8,1199.6 L1050.2,1194.5 L1050.6,1190.0 L1050.7,1189.4 L1051.1,1184.3 L1051.5,1179.2 L1051.9,1174.2 L1052.3,1169.1 L1052.7,1164.0 L1053.0,1160.0 L1053.1,1158.9 L1053.5,1153.8 L1053.9,1148.7 L1054.3,1143.6 L1054.7,1138.6 L1055.1,1133.5 L1055.4,1130.0 L1055.5,1128.4 L1055.9,1123.3 L1056.2,1118.2 L1056.6,1113.1 L1057.0,1108.0 L1057.4,1102.9 L1057.6,1100.0 L1057.7,1097.8 L1058.1,1092.8 L1058.5,1087.7 L1058.8,1082.6 L1059.2,1077.5 L1059.6,1072.4 L1059.7,1070.0 L1059.9,1067.3 L1060.3,1062.2 L1060.6,1057.1 L1061.0,1052.0 L1061.3,1046.9 L1061.6,1041.9 L1061.8,1040.0 L1062.0,1036.8 L1062.3,1031.7 L1062.7,1026.6 L1063.0,1021.5 L1063.3,1016.4 L1063.7,1011.3 L1063.7,1010.0 L1064.0,1006.2 L1064.3,1001.1 L1064.6,996.0 L1065.0,990.9 L1065.3,985.8 L1065.6,980.8 L1065.6,980.0 L1065.9,975.7 L1066.2,970.6 L1066.5,965.5 L1066.9,960.4 L1067.2,955.3 L1067.5,950.2 L1067.5,950.0 L1067.8,945.1 L1068.1,940.0 L1068.4,934.9 L1068.7,929.8 L1069.0,924.7 L1069.3,920.0 L1069.3,919.6 L1069.6,914.5 L1069.9,909.5 L1070.2,904.4 L1070.5,899.3 L1070.8,894.2 L1071.0,890.0 L1071.1,889.1 L1071.4,884.0 L1071.7,878.9 L1072.0,873.8 L1072.2,868.7 L1072.5,863.6 L1072.7,860.0 L1072.8,858.5 L1073.1,853.4 L1073.4,848.3 L1073.7,843.2 L1074.0,838.1 L1074.3,833.0 L1074.5,830.0 L1074.6,827.9 L1074.9,822.9 L1075.1,817.8 L1075.4,812.7 L1075.7,807.6 L1076.0,802.5 L1076.2,800.0 L1076.3,797.4 L1076.6,792.3 L1076.9,787.2 L1077.2,782.1 L1077.5,777.0 L1077.8,771.9 L1077.9,770.0 L1078.1,766.8 L1078.3,761.7 L1078.6,756.6 L1078.9,751.5 L1079.2,746.4 L1079.5,741.3 L1079.6,740.0 L1079.8,736.3 L1080.1,731.2 L1080.4,726.1 L1080.7,721.0 L1081.0,715.9 L1081.3,710.8 L1081.3,710.0 L1081.6,705.7 L1081.9,700.6 L1082.2,695.5 L1082.5,690.4 L1082.7,685.3 L1083.0,680.2 L1083.1,680.0 L1083.3,675.1 L1083.6,670.0 L1083.9,664.9 L1084.2,659.8 L1084.5,654.8 L1084.8,650.0 L1084.8,649.7 L1085.1,644.6 L1085.4,639.5 L1085.7,634.4 L1086.0,629.3 L1086.3,624.2 L1086.6,620.0 L1086.6,619.1 L1086.9,614.0 L1087.2,608.9 L1087.5,603.8 L1087.8,598.7 L1088.1,593.6 L1088.3,590.0 L1088.4,588.5 L1088.7,583.4 L1089.0,578.4 L1089.3,573.3 L1089.7,568.2 L1090.0,563.1 L1090.1,560.0 L1090.3,558.0 L1090.6,552.9 L1090.9,547.8 L1091.2,542.7 L1091.5,537.6 L1091.8,532.5 L1092.0,530.0 L1092.1,527.4 L1092.4,522.3 L1092.7,517.2 L1093.1,512.1 L1093.4,507.1 L1093.7,502.0 L1093.8,500.0 L1094.0,496.9 L1094.3,491.8 L1094.6,486.7 L1094.9,481.6 L1095.3,476.5 L1095.6,471.4 L1095.7,470.0 L1095.9,466.3 L1096.2,461.2 L1096.6,456.1 L1096.9,451.0 L1097.2,445.9 L1097.5,440.9 L1097.6,440.0 L1097.8,435.8 L1098.2,430.7 L1098.5,425.6 L1098.8,420.5 L1099.2,415.4 L1099.5,410.3 L1099.5,410.0 L1099.8,405.2 L1100.2,400.1 L1100.5,395.0 L1100.8,389.9 L1101.2,384.8 L1101.5,380.0 L1101.5,379.8 L1101.9,374.7 L1102.2,369.6 L1102.6,364.5 L1102.9,359.4 L1103.2,354.3 L1103.5,350.0 L1103.6,349.2 L1104.0,344.1 L1104.3,339.0 L1104.7,333.9 L1105.0,328.8 L1105.4,323.8 L1105.7,320.0 L1105.7,318.7 L1106.1,313.6 L1106.5,308.5 L1106.8,303.4 L1107.2,298.3 L1107.6,293.2 L1107.8,290.0 L1108.0,288.1 L1108.4,283.0 L1108.7,278.0 L1109.1,272.9 L1109.5,267.8 L1109.9,262.7 L1110.1,260.0 L1110.3,257.6 L1110.7,252.5 L1111.1,247.4 L1111.5,242.4 L1111.9,237.3 L1112.1,235.5 L1112.4,232.2 L1112.8,227.1 L1113.2,222.0 L1113.6,216.9 L1114.1,211.8 L1114.2,210.5 L1114.5,206.8 L1115.0,201.7 L1115.4,196.6 L1115.9,191.5 L1116.0,190.5 L1116.4,186.4 L1116.8,181.4 L1117.3,176.3 L1117.8,171.2 L1117.9,170.5 L1118.3,166.1 L1118.9,161.0 L1119.4,156.0 L1119.8,152.5 L1119.9,150.9 L1120.5,145.8 L1121.0,140.8 L1121.5,136.5 L1121.6,135.7 L1122.2,130.6 L1122.9,125.6 L1123.2,122.5 L1123.5,120.5 L1124.2,115.4 L1124.9,110.5 L1124.9,110.4 L1125.6,105.3 L1126.3,100.5 L1126.4,100.3 L1127.2,95.3 L1127.7,92.5 L1128.1,90.2 L1129.0,85.5 L1129.0,85.2 L1130.1,80.2 L1130.2,79.5 L1131.2,75.3 L1131.4,74.5 L1132.6,70.5 L1132.6,70.3 L1133.6,67.5 L1134.4,65.5 L1134.6,65.0 L1135.7,63.0 L1136.6,61.7 L1137.1,61.2 L1137.6,60.9 L1138.8,60.5 L1140.0,60.9 L1141.0,61.7 L1141.4,62.2 L1141.9,63.0 L1143.0,65.0 L1143.7,66.7 L1144.0,67.5 L1145.1,70.5 L1145.4,71.6 L1146.2,74.5 L1146.7,76.5 L1147.5,79.5 L1147.9,81.5 L1148.8,85.5 L1149.0,86.5 L1149.9,91.5 L1150.1,92.5 L1150.8,96.5 L1151.5,100.5 L1151.7,101.5 L1152.5,106.6 L1153.1,110.5 L1153.2,111.6 L1154.0,116.7 L1154.7,121.7 L1154.8,122.5 L1155.4,126.8 L1156.0,131.8 L1156.6,136.5 L1156.7,136.9 L1157.3,141.9 L1157.9,147.0 L1158.5,152.1 L1158.6,152.5 L1159.1,157.1 L1159.7,162.2 L1160.3,167.3 L1160.6,170.5 L1160.8,172.4 L1161.4,177.4 L1161.9,182.5 L1162.4,187.6 L1162.7,190.5 L1163.0,192.7 L1163.5,197.7 L1164.0,202.8 L1164.5,207.9 L1164.8,210.5 L1165.0,213.0 L1165.5,218.0 L1166.0,223.1 L1166.5,228.2 L1167.0,233.3 L1167.2,235.5 L1167.5,238.4 L1167.9,243.4 L1168.4,248.5 L1168.9,253.6 L1169.3,258.7 L1169.5,260.0 L1169.8,263.8 L1170.2,268.8 L1170.7,273.9 L1171.2,279.0 L1171.6,284.1 L1172.1,289.2 L1172.1,290.0 L1172.5,294.3 L1172.9,299.3 L1173.4,304.4 L1173.8,309.5 L1174.2,314.6 L1174.7,319.7 L1174.7,320.0 L1175.1,324.8 L1175.5,329.8 L1175.9,334.9 L1176.4,340.0 L1176.8,345.1 L1177.2,350.0 L1177.2,350.2 L1177.6,355.3 L1178.0,360.4 L1178.4,365.4 L1178.8,370.5 L1179.2,375.6 L1179.6,380.0 L1179.6,380.7 L1180.0,385.8 L1180.4,390.9 L1180.8,396.0 L1181.2,401.0 L1181.6,406.1 L1181.9,410.0 L1182.0,411.2 L1182.3,416.3 L1182.7,421.4 L1183.1,426.5 L1183.5,431.6 L1183.8,436.7 L1184.1,440.0 L1184.2,441.8 L1184.6,446.8 L1185.0,451.9 L1185.3,457.0 L1185.7,462.1 L1186.0,467.2 L1186.2,470.0 L1186.4,472.3 L1186.8,477.4 L1187.1,482.5 L1187.5,487.6 L1187.8,492.7 L1188.2,497.7 L1188.3,500.0 L1188.5,502.8 L1188.9,507.9 L1189.2,513.0 L1189.6,518.1 L1189.9,523.2 L1190.3,528.3 L1190.4,530.0 L1190.6,533.4 L1191.0,538.5 L1191.3,543.6 L1191.7,548.6 L1192.0,553.7 L1192.4,558.8 L1192.4,560.0 L1192.7,563.9 L1193.1,569.0 L1193.4,574.1 L1193.8,579.2 L1194.1,584.3 L1194.4,589.4 L1194.5,590.0 L1194.8,594.5 L1195.1,599.6 L1195.5,604.6 L1195.8,609.7 L1196.2,614.8 L1196.5,619.9 L1196.6,620.0 L1196.9,625.0 L1197.3,630.1 L1197.6,635.2 L1198.0,640.3 L1198.3,645.4 L1198.6,650.0 L1198.7,650.5 L1199.0,655.5 L1199.4,660.6 L1199.7,665.7 L1200.1,670.8 L1200.5,675.9 L1200.8,680.0 L1200.8,681.0 L1201.2,686.1 L1201.6,691.2 L1201.9,696.3 L1202.3,701.3 L1202.7,706.4 L1202.9,710.0 L1203.0,711.5 L1203.4,716.6 L1203.8,721.7 L1204.1,726.8 L1204.5,731.9 L1204.9,737.0 L1205.1,740.0 L1205.3,742.1 L1205.6,747.1 L1206.0,752.2 L1206.4,757.3 L1206.8,762.4 L1207.2,767.5 L1207.4,770.0 L1207.6,772.6 L1207.9,777.7 L1208.3,782.8 L1208.7,787.8 L1209.1,792.9 L1209.5,798.0 L1209.7,800.0 L1209.9,803.1 L1210.3,808.2 L1210.7,813.3 L1211.1,818.4 L1211.5,823.5 L1211.9,828.5 L1212.0,830.0 L1212.3,833.6 L1212.7,838.7 L1213.1,843.8 L1213.6,848.9 L1214.0,854.0 L1214.4,859.1 L1214.5,860.0 L1214.8,864.1 L1215.2,869.2 L1215.6,874.3 L1216.1,879.4 L1216.5,884.5 L1216.9,889.6 L1217.0,890.0 L1217.3,894.6 L1217.8,899.7 L1218.2,904.8 L1218.6,909.9 L1219.1,915.0 L1219.5,920.0 L1219.5,920.1 L1220.0,925.2 L1220.4,930.2 L1220.9,935.3 L1221.3,940.4 L1221.8,945.5 L1222.2,950.0 L1222.2,950.6 L1222.7,955.6 L1223.1,960.7 L1223.6,965.8 L1224.1,970.9 L1224.5,976.0 L1224.9,980.0 L1225.0,981.1 L1225.5,986.1 L1225.9,991.2 L1226.4,996.3 L1226.9,1001.4 L1227.4,1006.5 L1227.7,1010.0 L1227.9,1011.5 L1228.4,1016.6 L1228.9,1021.7 L1229.4,1026.8 L1229.9,1031.8 L1230.4,1036.9 L1230.7,1040.0 L1230.9,1042.0 L1231.4,1047.1 L1231.9,1052.1 L1232.5,1057.2 L1233.0,1062.3 L1233.5,1067.4 L1233.8,1070.0 L1234.0,1072.4 L1234.6,1077.5 L1235.1,1082.6 L1235.7,1087.7 L1236.2,1092.7 L1236.8,1097.8 L1237.0,1100.0 L1237.3,1102.9 L1237.9,1108.0 L1238.5,1113.0 L1239.0,1118.1 L1239.6,1123.2 L1240.2,1128.2 L1240.4,1130.0 L1240.8,1133.3 L1241.4,1138.4 L1242.0,1143.4 L1242.6,1148.5 L1243.2,1153.6 L1243.8,1158.6 L1243.9,1160.0 L1244.4,1163.7 L1245.0,1168.8 L1245.6,1173.8 L1246.3,1178.9 L1246.9,1184.0 L1247.5,1189.0 L1247.7,1190.0 L1248.2,1194.1 L1248.8,1199.1 L1249.5,1204.2 L1250.2,1209.3 L1250.8,1214.3 L1251.5,1219.4 L1251.6,1220.0 L1252.2,1224.4 L1252.9,1229.5 L1253.6,1234.5 L1254.3,1239.6 L1255.1,1244.6 L1255.8,1249.7 L1255.8,1250.0 L1256.5,1254.7 L1257.3,1259.8 L1258.1,1264.8 L1258.9,1269.9 L1259.6,1274.9 L1260.4,1279.9 L1260.5,1280.0 L1261.3,1285.0 L1262.1,1290.0 L1262.9,1295.1 L1263.8,1300.1 L1264.6,1305.1 L1265.5,1310.0 L1265.5,1310.1 L1266.4,1315.2 L1267.3,1320.2 L1268.2,1325.2 L1269.1,1330.2 L1270.1,1335.2 L1271.0,1340.0 L1271.0,1340.3 L1272.0,1345.3 L1273.0,1350.3 L1274.0,1355.3 L1275.0,1360.3 L1276.0,1365.3 L1277.0,1370.0 L1277.1,1370.3 L1278.2,1375.2 L1279.3,1380.2 L1280.4,1385.2 L1281.6,1390.2 L1282.8,1395.1 L1284.1,1400.0 L1284.1,1400.1 L1285.4,1405.0 L1286.7,1409.9 L1288.1,1414.8 L1289.5,1419.8 L1291.0,1424.6 L1292.5,1429.5 L1292.7,1430.0 L1294.2,1434.3 L1295.9,1439.1 L1297.7,1443.9 L1299.5,1448.7 L1301.4,1453.4 L1303.3,1458.2 L1305.0,1462.6 L1305.1,1462.9 L1306.9,1467.7 L1308.8,1472.5 L1310.7,1477.2 L1311.9,1480.0 L1312.7,1481.8 L1315.0,1486.4 L1317.3,1491.0 L1319.6,1495.3 L1319.7,1495.5 L1322.1,1500.0 L1324.6,1504.5 L1327.1,1508.9 L1329.7,1513.3 L1332.1,1517.0 L1332.5,1517.6 L1335.3,1521.8 L1338.3,1525.9 L1341.4,1530.0 L1344.7,1534.0 L1348.0,1537.9 L1348.8,1538.8 L1351.4,1541.6 L1354.9,1545.4 L1358.5,1549.0 L1362.2,1552.6 L1366.1,1556.0 L1370.0,1559.1 L1371.9,1560.5 L1374.2,1562.0 L1378.6,1564.7 L1382.3,1566.7 L1383.0,1567.1 L1387.6,1569.4 L1392.2,1571.5 L1396.9,1573.6 L1401.5,1575.8 L1402.0,1576.0 L1406.1,1578.0 L1410.7,1580.4 L1415.2,1582.7 L1419.8,1584.6 L1419.9,1584.6 L1424.7,1586.3 L1429.6,1587.7 L1434.5,1589.1 L1439.4,1590.6 L1439.7,1590.7 L1444.3,1592.2 L1449.1,1593.9 L1453.9,1595.5 L1458.8,1597.1 L1459.5,1597.3 L1463.7,1598.5 L1468.6,1599.9 L1473.5,1601.2 L1478.5,1602.5 L1479.4,1602.7 L1483.4,1603.7 L1488.4,1604.8 L1493.4,1605.9 L1498.4,1607.0 L1499.2,1607.2 L1503.4,1608.1 L1508.3,1609.1 L1513.3,1610.1 L1518.4,1611.1 L1519.0,1611.2 L1523.4,1612.0 L1528.4,1612.8 L1533.5,1613.6 L1538.5,1614.3 L1540.0,1614.5 L1543.6,1614.9 L1548.6,1615.6 L1553.7,1616.1 L1558.8,1616.7 L1563.9,1617.2 L1569.0,1617.7 L1574.0,1618.1 L1579.1,1618.4 L1580.0,1618.5 L1584.2,1618.8 L1589.3,1619.1 L1594.4,1619.4 L1599.5,1619.6 L1604.6,1619.9 L1609.7,1620.1 L1614.8,1620.2 L1619.9,1620.3 L1620.0,1620.3 L1625.0,1620.3 L1630.1,1620.4 L1635.2,1620.4 L1640.3,1620.4 L1645.4,1620.4 L1650.5,1620.5 L1655.6,1620.5 L1660.7,1620.5 L1665.8,1620.5 L1670.9,1620.5 L1676.0,1620.5 L1681.1,1620.6 L1686.2,1620.6 L1690.0,1620.6 L1691.3,1620.6 L1696.4,1620.6 L1701.5,1620.7 L1706.6,1620.7 L1711.7,1620.7 L1716.8,1620.8 L1722.0,1620.8 L1727.1,1620.9 L1732.2,1620.9 L1737.3,1620.9 L1742.4,1620.9 L1743.0,1620.9 L1747.5,1620.8 L1752.6,1620.7 L1757.7,1620.4 L1762.8,1620.1 L1767.8,1619.8 L1772.8,1619.4 L1772.9,1619.4 L1778.0,1618.9 L1783.1,1618.3 L1788.1,1617.7 L1793.2,1617.0 L1798.3,1616.3 L1802.5,1615.8 L1803.3,1615.7 L1808.4,1615.2 L1813.5,1614.6 L1818.5,1614.1 L1823.6,1613.6 L1828.7,1613.1 L1832.3,1612.8 L1833.8,1612.7 L1838.9,1612.2 L1844.0,1611.8 L1847.2,1611.6 L1849.0,1611.5 L1854.1,1611.4 L1859.3,1611.3 L1862.0,1611.3 L1864.4,1611.3 L1869.5,1611.4 L1874.6,1611.5 L1877.0,1611.6 L1879.7,1611.7 L1884.7,1612.3 L1889.8,1612.9 L1891.8,1613.1 L1894.9,1613.4 L1900.0,1613.8 L1900.7,1613.9 L1905.0,1614.3 L1910.1,1614.9 L1915.2,1615.4 L1920.3,1616.0 L1925.3,1616.5 L1930.0,1617.0 L1930.4,1617.0 L1935.5,1617.5 L1940.6,1618.0 L1945.7,1618.4 L1950.7,1618.8 L1955.8,1619.2 L1960.9,1619.6 L1966.0,1620.0"/>
<path stroke="#ff00ff" d="M74.5,1616.6 L79.6,1616.6 L84.7,1616.6 L89.9,1616.6 L95.0,1616.6 L100.1,1616.6 L105.2,1616.6 L110.3,1616.6 L115.5,1616.6 L120.6,1616.6 L125.7,1616.6 L130.8,1616.6 L135.9,1616.6 L141.1,1616.6 L146.2,1616.6 L150.0,1616.6 L151.3,1616.6 L156.4,1616.7 L161.5,1616.8 L166.7,1616.9 L171.8,1617.2 L175.0,1617.3 L176.9,1617.4 L182.0,1618.0 L187.1,1618.6 L190.0,1618.8 L192.2,1618.9 L197.3,1619.0 L202.4,1619.1 L207.5,1619.2 L212.6,1619.2 L217.8,1619.3 L222.9,1619.4 L228.0,1619.4 L233.1,1619.4 L238.3,1619.5 L243.4,1619.5 L248.5,1619.5 L250.0,1619.5 L253.6,1619.5 L258.7,1619.5 L263.9,1619.5 L269.0,1619.5 L274.1,1619.5 L279.2,1619.5 L284.4,1619.5 L289.5,1619.5 L294.6,1619.5 L299.7,1619.4 L304.9,1619.4 L310.0,1619.4 L315.1,1619.4 L320.2,1619.4 L325.3,1619.3 L330.0,1619.3 L330.4,1619.3 L335.5,1618.8 L340.6,1618.1 L345.0,1617.8 L345.7,1617.8 L350.8,1617.8 L355.9,1617.7 L361.0,1617.7 L366.1,1617.7 L371.3,1617.7 L376.4,1617.7 L381.5,1617.6 L386.6,1617.6 L391.7,1617.6 L396.8,1617.6 L402.0,1617.6 L407.1,1617.6 L412.2,1617.6 L417.3,1617.6 L422.5,1617.6 L427.6,1617.5 L432.7,1617.5 L437.8,1617.5 L443.0,1617.5 L448.1,1617.5 L453.2,1617.5 L458.3,1617.5 L463.5,1617.5 L468.6,1617.5 L473.7,1617.5 L478.8,1617.5 L484.0,1617.5 L489.1,1617.5 L494.2,1617.5 L499.3,1617.5 L500.0,1617.5 L504.4,1617.5 L509.6,1617.5 L514.7,1617.5 L519.8,1617.5 L524.9,1617.5 L530.1,1617.5 L535.2,1617.5 L540.3,1617.5 L545.4,1617.5 L550.6,1617.5 L555.7,1617.5 L560.8,1617.5 L565.9,1617.5 L571.1,1617.5 L576.2,1617.5 L581.3,1617.5 L586.5,1617.5 L591.6,1617.5 L596.7,1617.5 L601.8,1617.5 L607.0,1617.5 L612.1,1617.5 L617.2,1617.5 L622.3,1617.5 L627.4,1617.5 L632.6,1617.5 L637.7,1617.5 L642.8,1617.5 L647.9,1617.5 L653.0,1617.5 L658.1,1617.5 L663.2,1617.5 L668.4,1617.5 L673.5,1617.5 L678.6,1617.5 L683.7,1617.5 L688.8,1617.5 L690.0,1617.5 L693.9,1617.7 L699.0,1618.4 L704.0,1619.2 L709.1,1619.8 L712.0,1620.0 L714.2,1620.0 L719.3,1620.1 L724.4,1620.2 L729.6,1620.2 L734.7,1620.3 L739.8,1620.3 L744.9,1620.4 L750.0,1620.4 L755.2,1620.4 L760.3,1620.5 L765.4,1620.5 L770.5,1620.5 L775.7,1620.5 L780.0,1620.5 L780.8,1620.5 L785.9,1620.5 L791.0,1620.4 L796.1,1620.3 L801.3,1620.2 L806.4,1620.1 L811.5,1619.9 L816.6,1619.8 L821.7,1619.6 L826.9,1619.4 L832.0,1619.2 L837.1,1619.1 L842.2,1618.9 L844.3,1618.8 L847.3,1618.7 L852.4,1618.5 L857.6,1618.3 L862.7,1618.1 L867.8,1617.9 L872.9,1617.6 L878.0,1617.4 L879.0,1617.3 L883.1,1617.1 L888.2,1616.7 L893.4,1616.4 L898.5,1616.0 L898.9,1616.0 L903.6,1615.6 L908.7,1615.2 L913.8,1614.8 L918.7,1614.3 L918.9,1614.3 L924.0,1613.8 L929.1,1613.3 L934.2,1612.8 L938.6,1612.3 L939.2,1612.2 L944.3,1611.6 L949.4,1610.8 L954.4,1610.0 L958.4,1609.4 L959.5,1609.2 L964.6,1608.5 L969.6,1607.7 L974.7,1606.9 L979.7,1606.0 L984.8,1605.0 L986.0,1604.7 L989.7,1603.7 L994.6,1602.3 L997.9,1601.3 L999.5,1600.9 L1004.5,1599.6 L1009.4,1598.2 L1009.9,1598.1 L1014.4,1596.8 L1019.3,1595.3 L1021.9,1594.4 L1024.1,1593.5 L1028.7,1591.3 L1030.8,1590.1 L1033.1,1588.7 L1037.2,1585.6 L1041.0,1582.3 L1041.1,1582.2 L1044.6,1578.6 L1047.9,1574.6 L1050.9,1570.4 L1051.2,1570.0 L1053.7,1566.2 L1056.3,1561.7 L1058.7,1557.1 L1060.8,1552.5 L1061.0,1551.9 L1062.6,1547.7 L1064.2,1542.9 L1065.6,1537.9 L1066.8,1533.9 L1067.1,1533.0 L1068.4,1528.1 L1069.8,1523.1 L1071.1,1518.2 L1072.4,1513.2 L1073.3,1510.0 L1073.8,1508.3 L1075.4,1503.4 L1077.0,1498.6 L1077.9,1495.3 L1078.3,1493.6 L1079.4,1488.6 L1080.3,1483.6 L1081.2,1478.6 L1082.1,1473.5 L1082.9,1468.4 L1083.7,1463.4 L1083.8,1462.6 L1084.5,1458.3 L1085.2,1453.2 L1085.9,1448.2 L1086.6,1443.1 L1087.3,1438.0 L1087.9,1432.9 L1088.4,1430.0 L1088.6,1427.9 L1089.3,1422.8 L1090.0,1417.7 L1090.7,1412.7 L1091.4,1407.6 L1092.1,1402.5 L1092.4,1400.0 L1092.7,1397.4 L1093.4,1392.3 L1094.0,1387.3 L1094.6,1382.2 L1095.2,1377.1 L1095.8,1372.0 L1096.0,1370.0 L1096.3,1366.9 L1096.9,1361.8 L1097.5,1356.7 L1098.0,1351.6 L1098.5,1346.5 L1099.0,1341.5 L1099.2,1340.0 L1099.6,1336.4 L1100.1,1331.3 L1100.6,1326.2 L1101.1,1321.1 L1101.5,1316.0 L1102.0,1310.9 L1102.1,1310.0 L1102.5,1305.8 L1103.0,1300.7 L1103.4,1295.6 L1103.9,1290.5 L1104.3,1285.4 L1104.8,1280.3 L1104.8,1280.0 L1105.2,1275.2 L1105.7,1270.1 L1106.1,1265.0 L1106.6,1259.9 L1107.0,1254.8 L1107.4,1250.0 L1107.5,1249.7 L1107.9,1244.6 L1108.3,1239.5 L1108.7,1234.4 L1109.2,1229.3 L1109.6,1224.2 L1109.9,1220.0 L1110.0,1219.1 L1110.4,1214.0 L1110.8,1208.9 L1111.2,1203.7 L1111.7,1198.6 L1112.1,1193.5 L1112.3,1190.0 L1112.5,1188.4 L1112.9,1183.3 L1113.3,1178.2 L1113.6,1173.1 L1114.0,1168.0 L1114.4,1162.9 L1114.6,1160.0 L1114.8,1157.8 L1115.2,1152.7 L1115.6,1147.6 L1115.9,1142.5 L1116.3,1137.4 L1116.7,1132.3 L1116.9,1130.0 L1117.1,1127.2 L1117.4,1122.1 L1117.8,1117.0 L1118.2,1111.8 L1118.5,1106.7 L1118.9,1101.6 L1119.0,1100.0 L1119.2,1096.5 L1119.6,1091.4 L1119.9,1086.3 L1120.3,1081.2 L1120.6,1076.1 L1121.0,1071.0 L1121.0,1070.0 L1121.3,1065.9 L1121.6,1060.8 L1122.0,1055.6 L1122.3,1050.5 L1122.6,1045.4 L1123.0,1040.3 L1123.0,1040.0 L1123.3,1035.2 L1123.6,1030.1 L1123.9,1025.0 L1124.3,1019.9 L1124.6,1014.8 L1124.9,1010.0 L1124.9,1009.7 L1125.2,1004.6 L1125.5,999.4 L1125.8,994.3 L1126.2,989.2 L1126.5,984.1 L1126.7,980.0 L1126.8,979.0 L1127.1,973.9 L1127.4,968.8 L1127.7,963.7 L1128.0,958.6 L1128.3,953.4 L1128.5,950.0 L1128.6,948.3 L1128.9,943.2 L1129.2,938.1 L1129.5,933.0 L1129.8,927.9 L1130.1,922.8 L1130.2,920.0 L1130.3,917.7 L1130.6,912.5 L1130.9,907.4 L1131.2,902.3 L1131.5,897.2 L1131.8,892.1 L1131.9,890.0 L1132.1,887.0 L1132.3,881.9 L1132.6,876.8 L1132.9,871.6 L1133.2,866.5 L1133.5,861.4 L1133.6,860.0 L1133.8,856.3 L1134.0,851.2 L1134.3,846.1 L1134.6,841.0 L1134.9,835.9 L1135.2,830.7 L1135.2,830.0 L1135.4,825.6 L1135.7,820.5 L1136.0,815.4 L1136.3,810.3 L1136.6,805.2 L1136.8,800.1 L1136.8,800.0 L1137.1,795.0 L1137.4,789.8 L1137.7,784.7 L1137.9,779.6 L1138.2,774.5 L1138.5,770.0 L1138.5,769.4 L1138.8,764.3 L1139.1,759.2 L1139.3,754.1 L1139.6,748.9 L1139.9,743.8 L1140.1,740.0 L1140.2,738.7 L1140.5,733.6 L1140.8,728.5 L1141.0,723.4 L1141.3,718.3 L1141.6,713.2 L1141.8,710.0 L1141.9,708.0 L1142.2,702.9 L1142.4,697.8 L1142.7,692.7 L1143.0,687.6 L1143.3,682.5 L1143.4,680.0 L1143.6,677.4 L1143.8,672.3 L1144.1,667.1 L1144.4,662.0 L1144.7,656.9 L1145.0,651.8 L1145.1,650.0 L1145.3,646.7 L1145.6,641.6 L1145.8,636.5 L1146.1,631.4 L1146.4,626.2 L1146.7,621.1 L1146.8,620.0 L1147.0,616.0 L1147.3,610.9 L1147.5,605.8 L1147.8,600.7 L1148.1,595.6 L1148.4,590.5 L1148.4,590.0 L1148.7,585.3 L1149.0,580.2 L1149.3,575.1 L1149.6,570.0 L1149.9,564.9 L1150.1,560.0 L1150.1,559.8 L1150.4,554.7 L1150.7,549.6 L1151.0,544.4 L1151.3,539.3 L1151.6,534.2 L1151.8,530.0 L1151.9,529.1 L1152.2,524.0 L1152.5,518.9 L1152.8,513.8 L1153.1,508.7 L1153.4,503.6 L1153.6,500.0 L1153.7,498.4 L1154.0,493.3 L1154.3,488.2 L1154.6,483.1 L1154.9,478.0 L1155.2,472.9 L1155.3,470.0 L1155.5,467.8 L1155.8,462.7 L1156.1,457.5 L1156.4,452.4 L1156.7,447.3 L1157.0,442.2 L1157.1,440.0 L1157.3,437.1 L1157.6,432.0 L1157.9,426.9 L1158.2,421.8 L1158.5,416.7 L1158.8,411.6 L1158.9,410.0 L1159.1,406.4 L1159.5,401.3 L1159.8,396.2 L1160.1,391.1 L1160.4,386.0 L1160.7,380.9 L1160.8,380.0 L1161.0,375.8 L1161.4,370.7 L1161.7,365.6 L1162.0,360.4 L1162.3,355.3 L1162.7,350.2 L1162.7,350.0 L1163.0,345.1 L1163.3,340.0 L1163.7,334.9 L1164.0,329.8 L1164.3,324.7 L1164.7,320.0 L1164.7,319.6 L1165.0,314.5 L1165.4,309.4 L1165.7,304.2 L1166.1,299.1 L1166.4,294.0 L1166.7,290.0 L1166.8,288.9 L1167.1,283.8 L1167.5,278.7 L1167.9,273.6 L1168.2,268.5 L1168.6,263.4 L1168.8,260.0 L1169.0,258.3 L1169.3,253.2 L1169.7,248.1 L1170.1,243.0 L1170.5,237.9 L1170.7,235.5 L1170.9,232.7 L1171.3,227.6 L1171.7,222.5 L1172.1,217.4 L1172.5,212.3 L1172.7,210.5 L1172.9,207.2 L1173.4,202.1 L1173.8,197.0 L1174.2,191.9 L1174.4,190.5 L1174.7,186.8 L1175.1,181.7 L1175.6,176.6 L1176.1,171.5 L1176.2,170.5 L1176.6,166.4 L1177.0,161.3 L1177.5,156.2 L1177.9,152.5 L1178.1,151.1 L1178.6,146.0 L1179.1,141.0 L1179.6,136.5 L1179.7,135.9 L1180.3,130.8 L1180.9,125.7 L1181.3,122.5 L1181.5,120.6 L1182.2,115.5 L1182.8,110.5 L1182.8,110.5 L1183.5,105.4 L1184.3,100.5 L1184.3,100.3 L1185.1,95.3 L1185.6,92.5 L1186.0,90.2 L1186.8,85.5 L1186.9,85.2 L1187.9,80.2 L1188.1,79.5 L1189.1,75.2 L1189.3,74.5 L1190.4,70.5 L1190.5,70.3 L1191.5,67.5 L1192.3,65.5 L1192.5,65.0 L1193.6,63.0 L1194.6,61.7 L1195.1,61.2 L1195.5,60.9 L1196.8,60.5 L1197.5,60.9 L1198.1,61.7 L1198.8,63.0 L1198.8,63.0 L1199.6,65.0 L1200.6,67.5 L1200.6,67.7 L1201.5,70.5 L1202.2,72.6 L1202.7,74.5 L1203.5,77.6 L1204.0,79.5 L1204.8,82.5 L1205.5,85.5 L1205.9,87.5 L1207.0,92.5 L1207.0,92.5 L1208.0,97.5 L1208.6,100.5 L1209.0,102.6 L1209.9,107.6 L1210.4,110.5 L1210.8,112.7 L1211.6,117.7 L1212.3,122.5 L1212.4,122.8 L1213.1,127.8 L1213.9,132.9 L1214.4,136.5 L1214.6,138.0 L1215.2,143.1 L1215.8,148.1 L1216.4,152.5 L1216.5,153.2 L1217.0,158.3 L1217.6,163.4 L1218.2,168.5 L1218.4,170.5 L1218.7,173.6 L1219.2,178.7 L1219.7,183.8 L1220.2,188.9 L1220.4,190.5 L1220.7,194.0 L1221.2,199.1 L1221.6,204.2 L1222.1,209.3 L1222.2,210.5 L1222.5,214.4 L1223.0,219.5 L1223.4,224.6 L1223.9,229.7 L1224.3,234.8 L1224.4,235.5 L1224.7,239.9 L1225.1,245.0 L1225.6,250.1 L1226.0,255.2 L1226.4,260.0 L1226.4,260.3 L1226.8,265.4 L1227.2,270.5 L1227.6,275.6 L1228.0,280.7 L1228.4,285.8 L1228.8,290.0 L1228.8,290.9 L1229.2,296.0 L1229.6,301.1 L1230.0,306.2 L1230.4,311.3 L1230.8,316.4 L1231.1,320.0 L1231.2,321.5 L1231.6,326.6 L1232.0,331.7 L1232.4,336.9 L1232.8,342.0 L1233.2,347.1 L1233.4,350.0 L1233.6,352.2 L1233.9,357.3 L1234.3,362.4 L1234.7,367.5 L1235.1,372.6 L1235.5,377.7 L1235.6,380.0 L1235.8,382.8 L1236.2,387.9 L1236.6,393.0 L1237.0,398.1 L1237.3,403.2 L1237.7,408.3 L1237.8,410.0 L1238.1,413.4 L1238.5,418.6 L1238.8,423.7 L1239.2,428.8 L1239.6,433.9 L1239.9,439.0 L1240.0,440.0 L1240.3,444.1 L1240.7,449.2 L1241.1,454.3 L1241.4,459.4 L1241.8,464.5 L1242.2,469.6 L1242.2,470.0 L1242.5,474.7 L1242.9,479.8 L1243.2,484.9 L1243.6,490.1 L1244.0,495.2 L1244.3,500.0 L1244.3,500.3 L1244.7,505.4 L1245.1,510.5 L1245.4,515.6 L1245.8,520.7 L1246.2,525.8 L1246.5,530.0 L1246.5,530.9 L1246.9,536.0 L1247.3,541.1 L1247.6,546.2 L1248.0,551.3 L1248.4,556.4 L1248.6,560.0 L1248.7,561.6 L1249.1,566.7 L1249.4,571.8 L1249.8,576.9 L1250.2,582.0 L1250.5,587.1 L1250.8,590.0 L1250.9,592.2 L1251.3,597.3 L1251.7,602.4 L1252.0,607.5 L1252.4,612.6 L1252.8,617.7 L1252.9,620.0 L1253.1,622.8 L1253.5,627.9 L1253.9,633.1 L1254.2,638.2 L1254.6,643.3 L1255.0,648.4 L1255.1,650.0 L1255.4,653.5 L1255.7,658.6 L1256.1,663.7 L1256.5,668.8 L1256.9,673.9 L1257.2,679.0 L1257.3,680.0 L1257.6,684.1 L1258.0,689.2 L1258.4,694.3 L1258.8,699.4 L1259.1,704.5 L1259.5,709.6 L1259.5,710.0 L1259.9,714.8 L1260.3,719.9 L1260.7,725.0 L1261.1,730.1 L1261.4,735.2 L1261.8,740.0 L1261.8,740.3 L1262.2,745.4 L1262.6,750.5 L1263.0,755.6 L1263.4,760.7 L1263.8,765.8 L1264.1,770.0 L1264.2,770.9 L1264.6,776.0 L1264.9,781.1 L1265.3,786.2 L1265.7,791.3 L1266.1,796.4 L1266.4,800.0 L1266.5,801.5 L1266.9,806.7 L1267.3,811.8 L1267.7,816.9 L1268.1,822.0 L1268.5,827.1 L1268.8,830.0 L1268.9,832.2 L1269.3,837.3 L1269.7,842.4 L1270.1,847.5 L1270.6,852.6 L1271.0,857.7 L1271.1,860.0 L1271.4,862.8 L1271.8,867.9 L1272.2,873.0 L1272.6,878.1 L1273.0,883.2 L1273.4,888.3 L1273.6,890.0 L1273.9,893.4 L1274.3,898.5 L1274.7,903.6 L1275.1,908.7 L1275.5,913.8 L1275.9,918.9 L1276.0,920.0 L1276.4,924.0 L1276.8,929.1 L1277.2,934.2 L1277.6,939.3 L1278.1,944.4 L1278.5,949.5 L1278.6,950.0 L1279.0,954.7 L1279.4,959.8 L1279.8,964.9 L1280.3,970.0 L1280.7,975.1 L1281.2,980.0 L1281.2,980.2 L1281.6,985.3 L1282.1,990.4 L1282.5,995.5 L1283.0,1000.6 L1283.5,1005.7 L1283.9,1010.0 L1283.9,1010.8 L1284.4,1015.9 L1284.9,1021.0 L1285.4,1026.0 L1285.8,1031.1 L1286.3,1036.2 L1286.7,1040.0 L1286.8,1041.3 L1287.3,1046.4 L1287.8,1051.5 L1288.3,1056.6 L1288.8,1061.7 L1289.4,1066.8 L1289.7,1070.0 L1289.9,1071.9 L1290.4,1077.0 L1290.9,1082.1 L1291.5,1087.2 L1292.0,1092.3 L1292.6,1097.4 L1292.8,1100.0 L1293.1,1102.5 L1293.7,1107.6 L1294.2,1112.6 L1294.8,1117.7 L1295.4,1122.8 L1295.9,1127.9 L1296.2,1130.0 L1296.5,1133.0 L1297.1,1138.1 L1297.7,1143.2 L1298.3,1148.2 L1298.9,1153.3 L1299.5,1158.4 L1299.7,1160.0 L1300.1,1163.5 L1300.8,1168.6 L1301.4,1173.7 L1302.0,1178.7 L1302.7,1183.8 L1303.3,1188.9 L1303.5,1190.0 L1304.0,1194.0 L1304.6,1199.1 L1305.3,1204.1 L1306.0,1209.2 L1306.7,1214.3 L1307.4,1219.4 L1307.5,1220.0 L1308.1,1224.4 L1308.8,1229.5 L1309.5,1234.6 L1310.3,1239.6 L1311.0,1244.7 L1311.8,1249.8 L1311.8,1250.0 L1312.5,1254.8 L1313.3,1259.9 L1314.1,1264.9 L1314.9,1270.0 L1315.7,1275.1 L1316.5,1280.0 L1316.5,1280.1 L1317.4,1285.2 L1318.2,1290.2 L1319.1,1295.3 L1319.9,1300.3 L1320.8,1305.4 L1321.6,1310.0 L1321.7,1310.4 L1322.6,1315.4 L1323.5,1320.5 L1324.4,1325.5 L1325.4,1330.5 L1326.3,1335.6 L1327.2,1340.0 L1327.3,1340.6 L1328.3,1345.6 L1329.3,1350.7 L1330.3,1355.7 L1331.3,1360.7 L1332.3,1365.7 L1333.2,1370.0 L1333.4,1370.7 L1334.5,1375.7 L1335.6,1380.7 L1336.7,1385.7 L1337.9,1390.7 L1339.1,1395.7 L1340.1,1400.0 L1340.3,1400.6 L1341.6,1405.6 L1342.9,1410.6 L1344.2,1415.5 L1345.6,1420.5 L1347.0,1425.4 L1348.4,1430.0 L1348.4,1430.3 L1350.0,1435.1 L1351.6,1440.0 L1353.3,1444.9 L1355.0,1449.7 L1356.7,1454.5 L1358.5,1459.3 L1359.7,1462.6 L1360.3,1464.1 L1362.0,1468.9 L1363.8,1473.7 L1365.7,1478.5 L1367.5,1483.3 L1369.5,1488.0 L1371.5,1492.7 L1372.6,1495.3 L1373.5,1497.4 L1375.7,1502.0 L1377.9,1506.7 L1380.3,1511.2 L1382.7,1515.7 L1383.4,1517.0 L1385.2,1520.2 L1387.9,1524.6 L1390.6,1528.9 L1393.5,1533.2 L1396.5,1537.3 L1397.6,1538.8 L1399.6,1541.3 L1402.9,1545.3 L1406.3,1549.1 L1409.8,1552.9 L1413.4,1556.5 L1417.1,1560.1 L1417.6,1560.5 L1420.9,1563.5 L1424.8,1566.8 L1428.8,1570.0 L1432.9,1573.1 L1437.1,1576.1 L1439.7,1577.8 L1441.4,1578.9 L1445.7,1581.5 L1450.2,1584.0 L1454.8,1586.4 L1459.3,1588.7 L1459.5,1588.8 L1463.9,1591.0 L1468.6,1593.1 L1473.3,1595.2 L1478.0,1597.1 L1479.4,1597.7 L1482.8,1599.0 L1487.6,1600.8 L1492.4,1602.5 L1495.0,1603.3 L1497.3,1604.0 L1502.2,1605.6 L1507.1,1607.0 L1509.1,1607.5 L1512.1,1608.2 L1517.1,1609.2 L1522.1,1610.2 L1527.1,1611.2 L1529.0,1611.6 L1532.1,1612.3 L1537.1,1613.5 L1542.1,1614.7 L1547.1,1615.8 L1548.8,1616.1 L1552.1,1616.7 L1557.2,1617.4 L1558.7,1617.6 L1562.3,1618.0 L1567.4,1618.5 L1572.5,1618.9 L1577.6,1619.3 L1580.0,1619.5 L1582.7,1619.7 L1587.8,1620.2 L1592.9,1620.6 L1598.0,1620.9 L1600.0,1621.0 L1603.1,1621.1 L1608.3,1621.4 L1613.4,1621.6 L1618.5,1621.8 L1623.6,1622.0 L1628.7,1622.2 L1633.8,1622.3 L1639.0,1622.4 L1644.1,1622.5 L1649.2,1622.5 L1650.0,1622.5 L1654.3,1622.5 L1659.4,1622.5 L1664.6,1622.5 L1669.7,1622.5 L1674.8,1622.5 L1679.9,1622.5 L1685.0,1622.5 L1690.2,1622.5 L1695.3,1622.5 L1700.0,1622.5 L1700.4,1622.5 L1705.5,1622.5 L1710.7,1622.6 L1715.8,1622.7 L1720.9,1622.7 L1726.0,1622.8 L1731.1,1622.9 L1736.3,1623.0 L1741.4,1623.0 L1743.0,1623.0 L1746.5,1622.9 L1751.6,1622.6 L1756.7,1622.1 L1757.9,1622.0 L1761.8,1621.7 L1766.9,1621.1 L1772.0,1620.6 L1777.1,1619.9 L1782.2,1619.3 L1787.2,1618.7 L1787.6,1618.7 L1792.3,1618.1 L1797.4,1617.5 L1802.5,1616.9 L1807.6,1616.3 L1812.7,1615.8 L1817.4,1615.3 L1817.8,1615.3 L1822.9,1614.8 L1828.0,1614.4 L1833.1,1614.0 L1838.2,1613.7 L1843.3,1613.4 L1847.2,1613.2 L1848.4,1613.2 L1853.5,1613.0 L1858.7,1612.8 L1862.0,1612.8 L1863.8,1612.8 L1868.9,1613.2 L1874.0,1613.7 L1877.0,1614.0 L1879.1,1614.1 L1884.2,1614.5 L1889.3,1614.8 L1894.4,1615.1 L1899.5,1615.4 L1904.6,1615.7 L1906.7,1615.8 L1909.7,1616.0 L1914.9,1616.2 L1920.0,1616.5 L1925.1,1616.7 L1930.2,1617.0 L1935.3,1617.2 L1936.5,1617.3 L1940.4,1617.5 L1945.5,1617.9 L1950.0,1618.0 L1950.7,1618.0 L1955.8,1617.8 L1960.0,1617.6 L1960.9,1617.6 L1966.0,1617.3"/>
<path stroke="#990000" d="M74.5,1619.2 L79.6,1619.2 L84.8,1619.2 L89.9,1619.2 L95.0,1619.2 L100.2,1619.2 L105.3,1619.2 L110.4,1619.2 L115.6,1619.2 L120.7,1619.2 L125.8,1619.2 L131.0,1619.2 L136.1,1619.2 L141.2,1619.2 L146.3,1619.2 L151.5,1619.2 L156.6,1619.2 L161.7,1619.2 L166.9,1619.2 L172.0,1619.2 L177.1,1619.2 L182.3,1619.2 L187.4,1619.2 L192.5,1619.2 L197.7,1619.2 L200.0,1619.2 L202.8,1619.2 L207.9,1619.2 L213.1,1619.2 L218.2,1619.2 L223.3,1619.2 L228.5,1619.2 L233.6,1619.2 L238.7,1619.2 L243.9,1619.2 L249.0,1619.2 L254.1,1619.2 L259.2,1619.2 L264.4,1619.2 L269.5,1619.2 L274.6,1619.2 L279.8,1619.2 L284.9,1619.2 L290.0,1619.2 L295.2,1619.3 L300.3,1619.3 L305.4,1619.3 L310.6,1619.3 L315.7,1619.3 L320.8,1619.3 L326.0,1619.3 L331.1,1619.3 L336.2,1619.3 L341.4,1619.3 L346.5,1619.3 L351.6,1619.3 L356.8,1619.3 L361.9,1619.3 L367.0,1619.4 L372.1,1619.4 L377.3,1619.4 L382.4,1619.4 L387.5,1619.4 L392.7,1619.4 L397.8,1619.4 L402.9,1619.4 L408.1,1619.4 L413.2,1619.4 L418.3,1619.5 L423.5,1619.5 L428.6,1619.5 L433.7,1619.5 L438.9,1619.5 L440.0,1619.5 L444.0,1619.5 L449.1,1619.5 L454.3,1619.5 L459.4,1619.6 L464.5,1619.6 L469.7,1619.6 L474.8,1619.6 L479.9,1619.7 L485.0,1619.7 L490.2,1619.7 L495.3,1619.8 L500.4,1619.8 L505.6,1619.8 L510.7,1619.9 L515.8,1619.9 L521.0,1619.9 L526.1,1620.0 L531.2,1620.0 L536.4,1620.0 L541.5,1620.1 L546.6,1620.1 L551.8,1620.2 L556.9,1620.2 L562.0,1620.2 L567.2,1620.3 L572.3,1620.3 L577.4,1620.4 L582.6,1620.4 L587.7,1620.4 L592.8,1620.5 L597.9,1620.5 L600.0,1620.5 L603.1,1620.5 L608.2,1620.6 L613.3,1620.6 L618.5,1620.6 L623.6,1620.7 L628.7,1620.7 L633.9,1620.7 L639.0,1620.8 L644.1,1620.8 L649.3,1620.9 L654.4,1620.9 L659.5,1620.9 L664.7,1621.0 L669.8,1621.0 L674.9,1621.1 L680.1,1621.1 L685.2,1621.1 L690.3,1621.2 L695.5,1621.2 L700.6,1621.2 L705.7,1621.2 L710.8,1621.3 L716.0,1621.3 L721.1,1621.3 L726.2,1621.3 L731.4,1621.3 L735.0,1621.3 L736.5,1621.3 L741.6,1621.3 L746.8,1621.2 L751.9,1621.1 L757.0,1620.9 L762.2,1620.8 L767.3,1620.7 L772.4,1620.6 L777.6,1620.5 L780.0,1620.5 L782.7,1620.5 L787.8,1620.5 L792.9,1620.5 L798.1,1620.4 L803.2,1620.4 L808.3,1620.4 L813.5,1620.4 L818.6,1620.4 L823.7,1620.4 L828.9,1620.4 L834.0,1620.4 L839.1,1620.4 L844.3,1620.4 L849.4,1620.3 L854.5,1620.3 L859.2,1620.3 L859.7,1620.3 L864.8,1620.2 L869.9,1620.1 L875.1,1619.9 L879.0,1619.8 L880.2,1619.8 L885.3,1619.5 L890.4,1619.3 L895.6,1619.0 L898.9,1618.8 L900.7,1618.7 L905.8,1618.4 L910.9,1618.1 L916.0,1617.7 L918.7,1617.5 L921.2,1617.3 L926.3,1616.9 L931.4,1616.5 L936.5,1616.0 L938.6,1615.8 L941.6,1615.5 L946.7,1614.9 L951.8,1614.3 L956.9,1613.7 L958.4,1613.5 L962.0,1613.1 L967.1,1612.6 L972.2,1612.0 L977.3,1611.3 L980.0,1610.9 L982.3,1610.4 L987.3,1609.0 L992.0,1607.6 L992.2,1607.5 L997.2,1606.2 L1002.1,1604.8 L1003.9,1604.2 L1006.9,1603.1 L1011.6,1601.0 L1015.9,1598.8 L1016.2,1598.6 L1020.6,1596.1 L1025.0,1593.3 L1027.8,1591.3 L1029.2,1590.4 L1033.3,1587.2 L1037.2,1583.9 L1039.2,1581.8 L1040.6,1580.1 L1043.6,1575.9 L1046.2,1571.4 L1047.0,1569.8 L1048.4,1566.8 L1050.3,1562.1 L1052.1,1557.2 L1053.7,1552.4 L1053.9,1551.9 L1055.4,1547.5 L1057.0,1542.6 L1058.6,1537.7 L1059.7,1533.9 L1060.0,1532.8 L1061.4,1527.9 L1062.8,1522.9 L1064.1,1518.0 L1065.2,1513.0 L1065.9,1510.0 L1066.3,1507.9 L1067.3,1502.9 L1068.1,1497.8 L1068.6,1495.3 L1069.1,1492.8 L1070.0,1487.7 L1070.9,1482.7 L1071.8,1477.6 L1072.7,1472.6 L1073.6,1467.5 L1074.4,1462.6 L1074.4,1462.5 L1075.2,1457.4 L1075.9,1452.3 L1076.6,1447.2 L1077.3,1442.2 L1078.0,1437.1 L1078.7,1432.0 L1078.9,1430.0 L1079.3,1426.9 L1080.0,1421.8 L1080.7,1416.7 L1081.3,1411.6 L1082.0,1406.5 L1082.6,1401.4 L1082.8,1400.0 L1083.2,1396.3 L1083.8,1391.2 L1084.4,1386.2 L1085.0,1381.1 L1085.6,1376.0 L1086.1,1370.9 L1086.2,1370.0 L1086.7,1365.8 L1087.2,1360.6 L1087.8,1355.5 L1088.3,1350.4 L1088.8,1345.3 L1089.4,1340.2 L1089.4,1340.0 L1089.9,1335.1 L1090.4,1330.0 L1090.9,1324.9 L1091.4,1319.8 L1091.8,1314.7 L1092.3,1310.0 L1092.3,1309.6 L1092.8,1304.5 L1093.3,1299.4 L1093.7,1294.2 L1094.2,1289.1 L1094.6,1284.0 L1095.0,1280.0 L1095.1,1278.9 L1095.5,1273.8 L1096.0,1268.7 L1096.4,1263.6 L1096.9,1258.5 L1097.3,1253.4 L1097.6,1250.0 L1097.7,1248.2 L1098.2,1243.1 L1098.6,1238.0 L1099.0,1232.9 L1099.4,1227.8 L1099.8,1222.7 L1100.1,1220.0 L1100.3,1217.5 L1100.7,1212.4 L1101.1,1207.3 L1101.5,1202.2 L1101.9,1197.1 L1102.3,1192.0 L1102.4,1190.0 L1102.7,1186.9 L1103.0,1181.7 L1103.4,1176.6 L1103.8,1171.5 L1104.2,1166.4 L1104.6,1161.3 L1104.7,1160.0 L1105.0,1156.1 L1105.3,1151.0 L1105.7,1145.9 L1106.1,1140.8 L1106.4,1135.7 L1106.8,1130.6 L1106.8,1130.0 L1107.1,1125.4 L1107.5,1120.3 L1107.8,1115.2 L1108.2,1110.1 L1108.5,1105.0 L1108.9,1100.0 L1108.9,1099.8 L1109.2,1094.7 L1109.6,1089.6 L1109.9,1084.5 L1110.2,1079.3 L1110.5,1074.2 L1110.8,1070.0 L1110.9,1069.1 L1111.2,1064.0 L1111.5,1058.9 L1111.8,1053.7 L1112.2,1048.6 L1112.5,1043.5 L1112.7,1040.0 L1112.8,1038.4 L1113.1,1033.3 L1113.4,1028.1 L1113.7,1023.0 L1114.0,1017.9 L1114.3,1012.8 L1114.5,1010.0 L1114.6,1007.6 L1114.9,1002.5 L1115.2,997.4 L1115.5,992.3 L1115.8,987.1 L1116.1,982.0 L1116.2,980.0 L1116.4,976.9 L1116.7,971.8 L1116.9,966.6 L1117.2,961.5 L1117.5,956.4 L1117.8,951.3 L1117.9,950.0 L1118.1,946.2 L1118.3,941.0 L1118.6,935.9 L1118.9,930.8 L1119.2,925.7 L1119.4,920.5 L1119.5,920.0 L1119.7,915.4 L1120.0,910.3 L1120.2,905.2 L1120.5,900.0 L1120.8,894.9 L1121.0,890.0 L1121.0,889.8 L1121.3,884.7 L1121.6,879.5 L1121.8,874.4 L1122.1,869.3 L1122.3,864.2 L1122.6,860.0 L1122.6,859.0 L1122.9,853.9 L1123.1,848.8 L1123.4,843.7 L1123.6,838.5 L1123.9,833.4 L1124.1,830.0 L1124.2,828.3 L1124.4,823.2 L1124.7,818.0 L1124.9,812.9 L1125.2,807.8 L1125.5,802.6 L1125.6,800.0 L1125.7,797.5 L1126.0,792.4 L1126.2,787.3 L1126.5,782.1 L1126.8,777.0 L1127.0,771.9 L1127.1,770.0 L1127.3,766.8 L1127.6,761.6 L1127.8,756.5 L1128.1,751.4 L1128.3,746.3 L1128.6,741.1 L1128.7,740.0 L1128.9,736.0 L1129.1,730.9 L1129.4,725.8 L1129.7,720.6 L1129.9,715.5 L1130.2,710.4 L1130.2,710.0 L1130.5,705.3 L1130.7,700.1 L1131.0,695.0 L1131.3,689.9 L1131.5,684.8 L1131.8,680.0 L1131.8,679.6 L1132.1,674.5 L1132.3,669.4 L1132.6,664.3 L1132.9,659.1 L1133.1,654.0 L1133.3,650.0 L1133.4,648.9 L1133.7,643.8 L1133.9,638.6 L1134.2,633.5 L1134.5,628.4 L1134.7,623.3 L1134.9,620.0 L1135.0,618.1 L1135.3,613.0 L1135.6,607.9 L1135.8,602.8 L1136.1,597.6 L1136.4,592.5 L1136.5,590.0 L1136.6,587.4 L1136.9,582.3 L1137.2,577.2 L1137.5,572.0 L1137.8,566.9 L1138.0,561.8 L1138.1,560.0 L1138.3,556.7 L1138.6,551.5 L1138.9,546.4 L1139.1,541.3 L1139.4,536.2 L1139.7,531.0 L1139.8,530.0 L1140.0,525.9 L1140.3,520.8 L1140.5,515.7 L1140.8,510.5 L1141.1,505.4 L1141.4,500.3 L1141.4,500.0 L1141.7,495.2 L1142.0,490.0 L1142.3,484.9 L1142.6,479.8 L1142.8,474.7 L1143.1,470.0 L1143.1,469.5 L1143.4,464.4 L1143.7,459.3 L1144.0,454.2 L1144.3,449.1 L1144.6,443.9 L1144.8,440.0 L1144.9,438.8 L1145.2,433.7 L1145.5,428.6 L1145.8,423.4 L1146.1,418.3 L1146.4,413.2 L1146.6,410.0 L1146.7,408.1 L1147.0,402.9 L1147.3,397.8 L1147.6,392.7 L1147.9,387.6 L1148.2,382.5 L1148.4,380.0 L1148.5,377.3 L1148.9,372.2 L1149.2,367.1 L1149.5,362.0 L1149.8,356.8 L1150.1,351.7 L1150.2,350.0 L1150.5,346.6 L1150.8,341.5 L1151.1,336.4 L1151.4,331.2 L1151.8,326.1 L1152.1,321.0 L1152.2,320.0 L1152.4,315.9 L1152.8,310.8 L1153.1,305.6 L1153.4,300.5 L1153.8,295.4 L1154.1,290.3 L1154.2,290.0 L1154.5,285.1 L1154.8,280.0 L1155.2,274.9 L1155.6,269.8 L1155.9,264.7 L1156.2,260.0 L1156.3,259.6 L1156.6,254.4 L1157.0,249.3 L1157.4,244.2 L1157.8,239.1 L1158.0,235.5 L1158.2,234.0 L1158.6,228.8 L1159.0,223.7 L1159.4,218.6 L1159.8,213.5 L1160.0,210.5 L1160.2,208.4 L1160.6,203.3 L1161.0,198.2 L1161.4,193.0 L1161.7,190.5 L1161.9,187.9 L1162.3,182.8 L1162.8,177.7 L1163.2,172.6 L1163.4,170.5 L1163.7,167.5 L1164.2,162.4 L1164.7,157.3 L1165.1,152.5 L1165.2,152.2 L1165.7,147.0 L1166.2,141.9 L1166.8,136.8 L1166.8,136.5 L1167.3,131.7 L1167.9,126.6 L1168.4,122.5 L1168.5,121.5 L1169.1,116.5 L1169.8,111.4 L1169.9,110.5 L1170.5,106.3 L1171.2,101.2 L1171.3,100.5 L1172.0,96.1 L1172.6,92.5 L1172.8,91.1 L1173.7,86.0 L1173.8,85.5 L1174.7,81.0 L1175.0,79.5 L1175.8,76.0 L1176.1,74.5 L1177.1,71.0 L1177.2,70.5 L1178.2,67.5 L1178.7,66.1 L1179.2,65.0 L1180.2,63.0 L1181.1,61.7 L1181.2,61.6 L1182.0,60.9 L1183.2,60.5 L1184.3,60.9 L1185.1,61.7 L1185.4,62.0 L1186.0,63.0 L1187.0,65.0 L1187.6,66.6 L1187.9,67.5 L1188.9,70.5 L1189.2,71.5 L1190.0,74.5 L1190.4,76.5 L1191.1,79.5 L1191.5,81.5 L1192.3,85.5 L1192.5,86.6 L1193.4,91.6 L1193.6,92.5 L1194.3,96.7 L1194.9,100.5 L1195.0,101.7 L1195.8,106.8 L1196.3,110.5 L1196.5,111.9 L1197.2,117.0 L1197.9,122.1 L1197.9,122.5 L1198.5,127.2 L1199.1,132.3 L1199.6,136.5 L1199.7,137.4 L1200.3,142.5 L1200.9,147.6 L1201.4,152.5 L1201.4,152.7 L1202.0,157.8 L1202.5,162.9 L1203.0,168.0 L1203.3,170.5 L1203.6,173.1 L1204.1,178.2 L1204.6,183.3 L1205.1,188.4 L1205.3,190.5 L1205.6,193.5 L1206.0,198.6 L1206.5,203.7 L1207.0,208.8 L1207.1,210.5 L1207.4,213.9 L1207.9,219.1 L1208.4,224.2 L1208.8,229.3 L1209.2,234.4 L1209.3,235.5 L1209.7,239.5 L1210.1,244.6 L1210.6,249.7 L1211.0,254.8 L1211.4,260.0 L1211.4,260.0 L1211.8,265.1 L1212.2,270.2 L1212.7,275.3 L1213.1,280.4 L1213.5,285.5 L1213.8,290.0 L1213.9,290.6 L1214.3,295.8 L1214.7,300.9 L1215.1,306.0 L1215.5,311.1 L1215.9,316.2 L1216.2,320.0 L1216.3,321.3 L1216.7,326.5 L1217.1,331.6 L1217.5,336.7 L1217.8,341.8 L1218.2,346.9 L1218.5,350.0 L1218.6,352.1 L1219.0,357.2 L1219.4,362.3 L1219.8,367.4 L1220.1,372.5 L1220.5,377.6 L1220.7,380.0 L1220.9,382.8 L1221.3,387.9 L1221.6,393.0 L1222.0,398.1 L1222.4,403.2 L1222.7,408.4 L1222.8,410.0 L1223.1,413.5 L1223.5,418.6 L1223.8,423.7 L1224.2,428.8 L1224.5,433.9 L1224.9,439.1 L1225.0,440.0 L1225.3,444.2 L1225.6,449.3 L1226.0,454.4 L1226.3,459.5 L1226.7,464.7 L1227.0,469.8 L1227.1,470.0 L1227.4,474.9 L1227.8,480.0 L1228.1,485.1 L1228.5,490.3 L1228.8,495.4 L1229.1,500.0 L1229.2,500.5 L1229.5,505.6 L1229.9,510.7 L1230.2,515.9 L1230.6,521.0 L1230.9,526.1 L1231.2,530.0 L1231.3,531.2 L1231.6,536.3 L1232.0,541.5 L1232.3,546.6 L1232.7,551.7 L1233.0,556.8 L1233.3,560.0 L1233.4,561.9 L1233.8,567.1 L1234.1,572.2 L1234.5,577.3 L1234.8,582.4 L1235.2,587.5 L1235.3,590.0 L1235.5,592.7 L1235.9,597.8 L1236.2,602.9 L1236.6,608.0 L1236.9,613.1 L1237.3,618.3 L1237.4,620.0 L1237.7,623.4 L1238.0,628.5 L1238.4,633.6 L1238.7,638.7 L1239.1,643.8 L1239.5,649.0 L1239.5,650.0 L1239.8,654.1 L1240.2,659.2 L1240.6,664.3 L1240.9,669.4 L1241.3,674.6 L1241.6,679.7 L1241.7,680.0 L1242.0,684.8 L1242.4,689.9 L1242.7,695.0 L1243.1,700.2 L1243.5,705.3 L1243.8,710.0 L1243.9,710.4 L1244.2,715.5 L1244.6,720.6 L1245.0,725.7 L1245.4,730.9 L1245.7,736.0 L1246.0,740.0 L1246.1,741.1 L1246.5,746.2 L1246.9,751.3 L1247.2,756.5 L1247.6,761.6 L1248.0,766.7 L1248.3,770.0 L1248.4,771.8 L1248.8,776.9 L1249.2,782.0 L1249.5,787.2 L1249.9,792.3 L1250.3,797.4 L1250.5,800.0 L1250.7,802.5 L1251.1,807.6 L1251.5,812.7 L1251.9,817.9 L1252.3,823.0 L1252.7,828.1 L1252.8,830.0 L1253.1,833.2 L1253.5,838.3 L1253.9,843.4 L1254.3,848.6 L1254.7,853.7 L1255.1,858.8 L1255.2,860.0 L1255.5,863.9 L1255.9,869.0 L1256.3,874.1 L1256.7,879.3 L1257.1,884.4 L1257.5,889.5 L1257.5,890.0 L1257.9,894.6 L1258.3,899.7 L1258.7,904.8 L1259.2,910.0 L1259.6,915.1 L1260.0,920.0 L1260.0,920.2 L1260.4,925.3 L1260.8,930.4 L1261.3,935.5 L1261.7,940.6 L1262.1,945.8 L1262.5,950.0 L1262.5,950.9 L1263.0,956.0 L1263.4,961.1 L1263.8,966.2 L1264.3,971.3 L1264.7,976.4 L1265.0,980.0 L1265.2,981.5 L1265.6,986.7 L1266.1,991.8 L1266.5,996.9 L1267.0,1002.0 L1267.5,1007.1 L1267.7,1010.0 L1267.9,1012.2 L1268.4,1017.3 L1268.9,1022.4 L1269.3,1027.5 L1269.8,1032.7 L1270.3,1037.8 L1270.5,1040.0 L1270.8,1042.9 L1271.3,1048.0 L1271.8,1053.1 L1272.3,1058.2 L1272.8,1063.3 L1273.3,1068.4 L1273.5,1070.0 L1273.8,1073.5 L1274.3,1078.6 L1274.8,1083.7 L1275.4,1088.8 L1275.9,1093.9 L1276.4,1099.0 L1276.5,1100.0 L1277.0,1104.1 L1277.5,1109.2 L1278.1,1114.3 L1278.6,1119.4 L1279.2,1124.5 L1279.8,1129.6 L1279.8,1130.0 L1280.3,1134.7 L1280.9,1139.8 L1281.5,1144.9 L1282.1,1150.0 L1282.7,1155.1 L1283.2,1160.0 L1283.3,1160.2 L1283.9,1165.3 L1284.5,1170.4 L1285.1,1175.5 L1285.7,1180.6 L1286.4,1185.7 L1286.9,1190.0 L1287.0,1190.8 L1287.6,1195.9 L1288.3,1201.0 L1288.9,1206.1 L1289.6,1211.2 L1290.3,1216.3 L1290.8,1220.0 L1291.0,1221.3 L1291.7,1226.4 L1292.4,1231.5 L1293.1,1236.6 L1293.8,1241.7 L1294.5,1246.8 L1295.0,1250.0 L1295.2,1251.8 L1296.0,1256.9 L1296.7,1262.0 L1297.5,1267.1 L1298.3,1272.1 L1299.1,1277.2 L1299.5,1280.0 L1299.9,1282.3 L1300.7,1287.3 L1301.5,1292.4 L1302.3,1297.5 L1303.2,1302.5 L1304.0,1307.6 L1304.4,1310.0 L1304.9,1312.6 L1305.8,1317.7 L1306.7,1322.8 L1307.6,1327.8 L1308.5,1332.9 L1309.4,1337.9 L1309.8,1340.0 L1310.4,1343.0 L1311.3,1348.0 L1312.3,1353.0 L1313.3,1358.1 L1314.3,1363.1 L1315.3,1368.1 L1315.7,1370.0 L1316.4,1373.2 L1317.4,1378.2 L1318.5,1383.2 L1319.6,1388.2 L1320.8,1393.2 L1322.0,1398.2 L1322.4,1400.0 L1323.2,1403.2 L1324.5,1408.1 L1325.8,1413.1 L1327.1,1418.1 L1328.5,1423.0 L1330.0,1427.9 L1330.6,1430.0 L1331.5,1432.8 L1333.1,1437.7 L1334.8,1442.5 L1336.6,1447.4 L1338.4,1452.2 L1340.2,1457.0 L1342.0,1461.8 L1342.3,1462.6 L1343.8,1466.6 L1345.5,1471.4 L1347.3,1476.3 L1349.0,1481.1 L1350.9,1485.9 L1352.8,1490.6 L1354.9,1495.3 L1354.9,1495.3 L1357.2,1499.9 L1359.6,1504.4 L1362.1,1508.9 L1364.8,1513.3 L1367.1,1517.0 L1367.5,1517.6 L1370.3,1521.9 L1373.2,1526.2 L1376.2,1530.4 L1379.3,1534.5 L1382.4,1538.5 L1382.6,1538.8 L1385.6,1542.5 L1388.9,1546.5 L1392.3,1550.4 L1395.7,1554.2 L1399.3,1557.9 L1401.5,1560.0 L1403.0,1561.4 L1406.9,1564.8 L1410.9,1568.0 L1415.0,1571.1 L1419.2,1574.0 L1419.8,1574.4 L1423.5,1576.7 L1428.0,1579.3 L1432.6,1581.7 L1437.2,1584.0 L1439.7,1585.1 L1441.9,1586.0 L1446.6,1588.0 L1451.4,1589.8 L1456.3,1591.5 L1459.5,1592.6 L1461.1,1593.2 L1466.0,1594.8 L1470.9,1596.5 L1475.8,1598.0 L1479.4,1599.0 L1480.7,1599.3 L1485.7,1600.6 L1490.7,1601.8 L1495.7,1602.9 L1499.2,1603.6 L1500.7,1603.9 L1505.8,1604.8 L1510.8,1605.7 L1515.9,1606.6 L1519.0,1607.1 L1520.9,1607.4 L1526.0,1608.3 L1531.1,1609.1 L1536.2,1609.8 L1538.9,1610.2 L1541.2,1610.5 L1546.3,1611.1 L1551.4,1611.8 L1556.5,1612.3 L1558.7,1612.6 L1561.6,1612.9 L1566.7,1613.6 L1571.8,1614.2 L1576.9,1614.7 L1578.6,1614.9 L1582.0,1615.3 L1587.1,1615.8 L1592.2,1616.3 L1597.3,1616.7 L1598.4,1616.8 L1602.5,1617.1 L1607.6,1617.4 L1612.7,1617.7 L1617.8,1618.0 L1623.0,1618.3 L1628.1,1618.6 L1628.8,1618.6 L1633.2,1618.9 L1638.3,1619.2 L1643.5,1619.5 L1648.6,1619.8 L1653.7,1620.0 L1658.6,1620.3 L1658.8,1620.3 L1663.9,1620.6 L1669.1,1620.8 L1674.2,1621.1 L1679.3,1621.3 L1684.5,1621.5 L1688.3,1621.6 L1689.6,1621.6 L1694.7,1621.7 L1699.8,1621.8 L1705.0,1621.9 L1710.1,1622.0 L1715.2,1622.0 L1718.0,1622.0 L1720.4,1622.0 L1725.5,1622.0 L1730.6,1622.0 L1735.8,1622.0 L1740.9,1622.0 L1746.0,1622.0 L1747.9,1622.0 L1751.2,1622.0 L1756.3,1621.8 L1761.4,1621.6 L1766.5,1621.3 L1771.7,1621.1 L1772.8,1621.0 L1776.8,1620.8 L1781.9,1620.6 L1787.1,1620.3 L1792.2,1620.1 L1797.3,1619.8 L1802.4,1619.4 L1802.5,1619.4 L1807.5,1619.0 L1812.6,1618.4 L1817.7,1617.8 L1822.8,1617.2 L1827.9,1616.6 L1832.3,1616.1 L1833.0,1616.0 L1838.1,1615.5 L1843.2,1614.9 L1847.2,1614.6 L1848.3,1614.5 L1853.5,1614.2 L1858.6,1614.0 L1862.0,1613.9 L1863.7,1613.9 L1868.9,1613.9 L1874.0,1613.9 L1877.0,1613.9 L1879.1,1613.9 L1884.3,1614.0 L1889.4,1614.2 L1891.8,1614.3 L1894.5,1614.5 L1899.6,1614.9 L1904.7,1615.3 L1906.7,1615.4 L1909.9,1615.5 L1915.0,1615.6 L1920.1,1615.8 L1921.6,1615.8 L1925.3,1615.9 L1930.4,1616.1 L1935.5,1616.3 L1936.5,1616.4 L1940.6,1616.7 L1945.7,1617.2 L1950.8,1617.8 L1951.3,1617.9 L1955.9,1618.6 L1961.0,1619.5 L1966.0,1620.5"/>
</g>
<text transform="translate(75.60,130.8) scale(1,1.04)" font-size="68.7" letter-spacing="1.136">P(ALIC-co-DDIC)</text>
<g stroke-width="11" stroke-linecap="round" shape-rendering="crispEdges">
<line x1="76.3" x2="237.4" y1="196.4" y2="196.4" stroke="#ff0000"/>
<line x1="76.3" x2="237.4" y1="286.1" y2="286.1" stroke="#00ff00"/>
<line x1="76.3" x2="237.4" y1="375.8" y2="375.8" stroke="#0000ff"/>
<line x1="76.3" x2="237.4" y1="465.5" y2="465.5" stroke="#ff00ff"/>
<line x1="76.3" x2="237.4" y1="555.2" y2="555.2" stroke="#990000"/>
</g>
<text transform="translate(331.52,220.7) scale(1,1.02)" font-size="68.6" letter-spacing="1.031">20/80</text>
<text transform="translate(331.52,310.4) scale(1,1.02)" font-size="68.6" letter-spacing="1.031">40/60</text>
<text transform="translate(331.52,400.1) scale(1,1.02)" font-size="68.6" letter-spacing="1.031">50/50</text>
<text transform="translate(331.52,489.8) scale(1,1.02)" font-size="68.6" letter-spacing="1.031">60/40</text>
<text transform="translate(331.52,579.5) scale(1,1.02)" font-size="68.6" letter-spacing="1.031">80/20</text>
<text transform="translate(25.56,1717.0) scale(1,1.023)" font-size="56" letter-spacing="0.849">20</text>
<text transform="translate(505.76,1717.0) scale(1,1.023)" font-size="56" letter-spacing="0.911">25</text>
<text transform="translate(987.51,1717.0) scale(1,1.023)" font-size="56" letter-spacing="-0.007">30</text>
<text transform="translate(1467.41,1717.0) scale(1,1.023)" font-size="56" letter-spacing="0.655">35</text>
<text transform="translate(1947.05,1717.0) scale(1,1.023)" font-size="56" letter-spacing="0.855">40</text>
<text transform="translate(673.12,1835) scale(1,1.04)" font-size="68.4" letter-spacing="1.307">Elution Volume (mL)</text>
</svg></body></html>
